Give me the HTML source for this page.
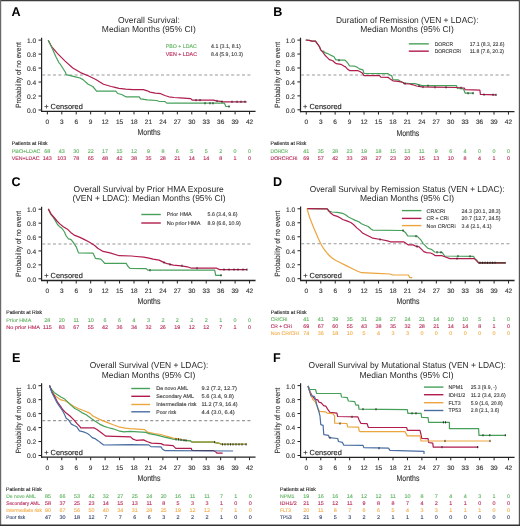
<!DOCTYPE html>
<html><head><meta charset="utf-8"><title>Kaplan-Meier</title>
<style>html,body{margin:0;padding:0;background:#fff;width:520px;height:526px;overflow:hidden}body{position:relative;font-family:"Liberation Sans", sans-serif}</style>
</head><body>
<svg width="520" height="526" viewBox="0 0 520 526" font-family='"Liberation Sans", sans-serif' text-rendering="geometricPrecision" style="position:absolute;left:0;top:0;will-change:transform">
<defs><filter id="bl" x="0" y="0" width="100%" height="100%"><feGaussianBlur stdDeviation="0.25"/></filter></defs>
<rect x="0" y="0" width="520" height="526" fill="#fff"/>
<g filter="url(#bl)">
<text x="11.60" y="16.30" font-size="12.6" fill="#000" font-weight="bold" >A</text>
<text x="273.20" y="16.10" font-size="12.6" fill="#000" font-weight="bold" >B</text>
<text x="11.60" y="186.30" font-size="12.6" fill="#000" font-weight="bold" >C</text>
<text x="273.10" y="185.90" font-size="12.6" fill="#000" font-weight="bold" >D</text>
<text x="12.00" y="361.70" font-size="12.6" fill="#000" font-weight="bold" >E</text>
<text x="273.05" y="361.70" font-size="12.6" fill="#000" font-weight="bold" >F</text>
<text x="118.00" y="22.70" font-size="8.6" fill="#2a2a2a" textLength="61.80" lengthAdjust="spacingAndGlyphs" >Overall Survival:</text>
<text x="101.80" y="32.30" font-size="8.6" fill="#2a2a2a" textLength="94.00" lengthAdjust="spacingAndGlyphs" >Median Months (95% CI)</text>
<text x="335.90" y="22.60" font-size="8.6" fill="#2a2a2a" textLength="142.60" lengthAdjust="spacingAndGlyphs" >Duration of Remission (VEN + LDAC):</text>
<text x="360.20" y="32.30" font-size="8.6" fill="#2a2a2a" textLength="93.60" lengthAdjust="spacingAndGlyphs" >Median Months (95% CI)</text>
<text x="73.60" y="192.00" font-size="8.6" fill="#2a2a2a" textLength="150.10" lengthAdjust="spacingAndGlyphs" >Overall Survival by Prior HMA Exposure</text>
<text x="72.40" y="201.20" font-size="8.6" fill="#2a2a2a" textLength="153.30" lengthAdjust="spacingAndGlyphs" >(VEN + LDAC): Median Months (95% CI)</text>
<text x="309.70" y="192.00" font-size="8.6" fill="#2a2a2a" textLength="194.80" lengthAdjust="spacingAndGlyphs" >Overall Survival by Remission Status (VEN + LDAC):</text>
<text x="360.00" y="201.20" font-size="8.6" fill="#2a2a2a" textLength="94.10" lengthAdjust="spacingAndGlyphs" >Median Months (95% CI)</text>
<text x="89.70" y="368.25" font-size="8.6" fill="#2a2a2a" textLength="118.60" lengthAdjust="spacingAndGlyphs" >Overall Survival (VEN + LDAC):</text>
<text x="101.70" y="377.60" font-size="8.6" fill="#2a2a2a" textLength="93.60" lengthAdjust="spacingAndGlyphs" >Median Months (95% CI)</text>
<text x="308.60" y="368.25" font-size="8.6" fill="#2a2a2a" textLength="197.30" lengthAdjust="spacingAndGlyphs" >Overall Survival by Mutational Status (VEN + LDAC):</text>
<text x="359.40" y="377.60" font-size="8.6" fill="#2a2a2a" textLength="94.10" lengthAdjust="spacingAndGlyphs" >Median Months (95% CI)</text>
<line x1="41.60" y1="37.70" x2="41.60" y2="112.00" stroke="#222" stroke-width="1.2"/>
<line x1="41.00" y1="111.40" x2="255.55" y2="111.40" stroke="#222" stroke-width="1.3"/>
<line x1="38.50" y1="110.00" x2="41.60" y2="110.00" stroke="#222" stroke-width="1"/>
<text x="36.10" y="112.95" font-size="6.6" fill="#333" stroke="#333" stroke-width="0.12" text-anchor="end" >0.0</text>
<line x1="38.50" y1="96.02" x2="41.60" y2="96.02" stroke="#222" stroke-width="1"/>
<text x="36.10" y="98.97" font-size="6.6" fill="#333" stroke="#333" stroke-width="0.12" text-anchor="end" >0.2</text>
<line x1="38.50" y1="82.04" x2="41.60" y2="82.04" stroke="#222" stroke-width="1"/>
<text x="36.10" y="84.99" font-size="6.6" fill="#333" stroke="#333" stroke-width="0.12" text-anchor="end" >0.4</text>
<line x1="38.50" y1="68.06" x2="41.60" y2="68.06" stroke="#222" stroke-width="1"/>
<text x="36.10" y="71.01" font-size="6.6" fill="#333" stroke="#333" stroke-width="0.12" text-anchor="end" >0.6</text>
<line x1="38.50" y1="54.08" x2="41.60" y2="54.08" stroke="#222" stroke-width="1"/>
<text x="36.10" y="57.03" font-size="6.6" fill="#333" stroke="#333" stroke-width="0.12" text-anchor="end" >0.8</text>
<line x1="38.50" y1="40.10" x2="41.60" y2="40.10" stroke="#222" stroke-width="1"/>
<text x="36.10" y="43.05" font-size="6.6" fill="#333" stroke="#333" stroke-width="0.12" text-anchor="end" >1.0</text>
<line x1="47.35" y1="111.40" x2="47.35" y2="114.40" stroke="#222" stroke-width="1"/>
<text x="47.35" y="123.80" font-size="6.5" fill="#333" stroke="#333" stroke-width="0.12" text-anchor="middle" >0</text>
<line x1="61.79" y1="111.40" x2="61.79" y2="114.40" stroke="#222" stroke-width="1"/>
<text x="61.79" y="123.80" font-size="6.5" fill="#333" stroke="#333" stroke-width="0.12" text-anchor="middle" >3</text>
<line x1="76.23" y1="111.40" x2="76.23" y2="114.40" stroke="#222" stroke-width="1"/>
<text x="76.23" y="123.80" font-size="6.5" fill="#333" stroke="#333" stroke-width="0.12" text-anchor="middle" >6</text>
<line x1="90.68" y1="111.40" x2="90.68" y2="114.40" stroke="#222" stroke-width="1"/>
<text x="90.68" y="123.80" font-size="6.5" fill="#333" stroke="#333" stroke-width="0.12" text-anchor="middle" >9</text>
<line x1="105.12" y1="111.40" x2="105.12" y2="114.40" stroke="#222" stroke-width="1"/>
<text x="105.12" y="123.80" font-size="6.5" fill="#333" stroke="#333" stroke-width="0.12" text-anchor="middle" >12</text>
<line x1="119.56" y1="111.40" x2="119.56" y2="114.40" stroke="#222" stroke-width="1"/>
<text x="119.56" y="123.80" font-size="6.5" fill="#333" stroke="#333" stroke-width="0.12" text-anchor="middle" >15</text>
<line x1="134.00" y1="111.40" x2="134.00" y2="114.40" stroke="#222" stroke-width="1"/>
<text x="134.00" y="123.80" font-size="6.5" fill="#333" stroke="#333" stroke-width="0.12" text-anchor="middle" >18</text>
<line x1="148.44" y1="111.40" x2="148.44" y2="114.40" stroke="#222" stroke-width="1"/>
<text x="148.44" y="123.80" font-size="6.5" fill="#333" stroke="#333" stroke-width="0.12" text-anchor="middle" >21</text>
<line x1="162.89" y1="111.40" x2="162.89" y2="114.40" stroke="#222" stroke-width="1"/>
<text x="162.89" y="123.80" font-size="6.5" fill="#333" stroke="#333" stroke-width="0.12" text-anchor="middle" >24</text>
<line x1="177.33" y1="111.40" x2="177.33" y2="114.40" stroke="#222" stroke-width="1"/>
<text x="177.33" y="123.80" font-size="6.5" fill="#333" stroke="#333" stroke-width="0.12" text-anchor="middle" >27</text>
<line x1="191.77" y1="111.40" x2="191.77" y2="114.40" stroke="#222" stroke-width="1"/>
<text x="191.77" y="123.80" font-size="6.5" fill="#333" stroke="#333" stroke-width="0.12" text-anchor="middle" >30</text>
<line x1="206.21" y1="111.40" x2="206.21" y2="114.40" stroke="#222" stroke-width="1"/>
<text x="206.21" y="123.80" font-size="6.5" fill="#333" stroke="#333" stroke-width="0.12" text-anchor="middle" >33</text>
<line x1="220.65" y1="111.40" x2="220.65" y2="114.40" stroke="#222" stroke-width="1"/>
<text x="220.65" y="123.80" font-size="6.5" fill="#333" stroke="#333" stroke-width="0.12" text-anchor="middle" >36</text>
<line x1="235.10" y1="111.40" x2="235.10" y2="114.40" stroke="#222" stroke-width="1"/>
<text x="235.10" y="123.80" font-size="6.5" fill="#333" stroke="#333" stroke-width="0.12" text-anchor="middle" >39</text>
<line x1="249.54" y1="111.40" x2="249.54" y2="114.40" stroke="#222" stroke-width="1"/>
<text x="249.54" y="123.80" font-size="6.5" fill="#333" stroke="#333" stroke-width="0.12" text-anchor="middle" >42</text>
<line x1="42.20" y1="75.05" x2="252.25" y2="75.05" stroke="#999" stroke-width="1.1" stroke-dasharray="3 2.4"/>
<text x="0" y="0" font-size="7.6" fill="#333" stroke="#333" stroke-width="0.1" text-anchor="middle" textLength="66" lengthAdjust="spacingAndGlyphs" transform="translate(21.40,75.05) rotate(-90)">Probability of no event</text>
<text x="148.97" y="135.30" font-size="8.4" fill="#333" stroke="#333" stroke-width="0.12" text-anchor="middle" textLength="23.00" lengthAdjust="spacingAndGlyphs" >Months</text>
<text x="44.20" y="109.20" font-size="7.3" fill="#222" stroke="#222" stroke-width="0.12" textLength="38.60" lengthAdjust="spacingAndGlyphs" >+ Censored</text>
<line x1="300.50" y1="37.70" x2="300.50" y2="112.20" stroke="#222" stroke-width="1.2"/>
<line x1="299.90" y1="111.60" x2="514.45" y2="111.60" stroke="#222" stroke-width="1.3"/>
<line x1="297.40" y1="109.80" x2="300.50" y2="109.80" stroke="#222" stroke-width="1"/>
<text x="295.00" y="112.75" font-size="6.6" fill="#333" stroke="#333" stroke-width="0.12" text-anchor="end" >0.0</text>
<line x1="297.40" y1="95.86" x2="300.50" y2="95.86" stroke="#222" stroke-width="1"/>
<text x="295.00" y="98.81" font-size="6.6" fill="#333" stroke="#333" stroke-width="0.12" text-anchor="end" >0.2</text>
<line x1="297.40" y1="81.92" x2="300.50" y2="81.92" stroke="#222" stroke-width="1"/>
<text x="295.00" y="84.87" font-size="6.6" fill="#333" stroke="#333" stroke-width="0.12" text-anchor="end" >0.4</text>
<line x1="297.40" y1="67.98" x2="300.50" y2="67.98" stroke="#222" stroke-width="1"/>
<text x="295.00" y="70.93" font-size="6.6" fill="#333" stroke="#333" stroke-width="0.12" text-anchor="end" >0.6</text>
<line x1="297.40" y1="54.04" x2="300.50" y2="54.04" stroke="#222" stroke-width="1"/>
<text x="295.00" y="56.99" font-size="6.6" fill="#333" stroke="#333" stroke-width="0.12" text-anchor="end" >0.8</text>
<line x1="297.40" y1="40.10" x2="300.50" y2="40.10" stroke="#222" stroke-width="1"/>
<text x="295.00" y="43.05" font-size="6.6" fill="#333" stroke="#333" stroke-width="0.12" text-anchor="end" >1.0</text>
<line x1="306.25" y1="111.60" x2="306.25" y2="114.60" stroke="#222" stroke-width="1"/>
<text x="306.25" y="124.00" font-size="6.5" fill="#333" stroke="#333" stroke-width="0.12" text-anchor="middle" >0</text>
<line x1="320.69" y1="111.60" x2="320.69" y2="114.60" stroke="#222" stroke-width="1"/>
<text x="320.69" y="124.00" font-size="6.5" fill="#333" stroke="#333" stroke-width="0.12" text-anchor="middle" >3</text>
<line x1="335.13" y1="111.60" x2="335.13" y2="114.60" stroke="#222" stroke-width="1"/>
<text x="335.13" y="124.00" font-size="6.5" fill="#333" stroke="#333" stroke-width="0.12" text-anchor="middle" >6</text>
<line x1="349.58" y1="111.60" x2="349.58" y2="114.60" stroke="#222" stroke-width="1"/>
<text x="349.58" y="124.00" font-size="6.5" fill="#333" stroke="#333" stroke-width="0.12" text-anchor="middle" >9</text>
<line x1="364.02" y1="111.60" x2="364.02" y2="114.60" stroke="#222" stroke-width="1"/>
<text x="364.02" y="124.00" font-size="6.5" fill="#333" stroke="#333" stroke-width="0.12" text-anchor="middle" >12</text>
<line x1="378.46" y1="111.60" x2="378.46" y2="114.60" stroke="#222" stroke-width="1"/>
<text x="378.46" y="124.00" font-size="6.5" fill="#333" stroke="#333" stroke-width="0.12" text-anchor="middle" >15</text>
<line x1="392.90" y1="111.60" x2="392.90" y2="114.60" stroke="#222" stroke-width="1"/>
<text x="392.90" y="124.00" font-size="6.5" fill="#333" stroke="#333" stroke-width="0.12" text-anchor="middle" >18</text>
<line x1="407.34" y1="111.60" x2="407.34" y2="114.60" stroke="#222" stroke-width="1"/>
<text x="407.34" y="124.00" font-size="6.5" fill="#333" stroke="#333" stroke-width="0.12" text-anchor="middle" >21</text>
<line x1="421.79" y1="111.60" x2="421.79" y2="114.60" stroke="#222" stroke-width="1"/>
<text x="421.79" y="124.00" font-size="6.5" fill="#333" stroke="#333" stroke-width="0.12" text-anchor="middle" >24</text>
<line x1="436.23" y1="111.60" x2="436.23" y2="114.60" stroke="#222" stroke-width="1"/>
<text x="436.23" y="124.00" font-size="6.5" fill="#333" stroke="#333" stroke-width="0.12" text-anchor="middle" >27</text>
<line x1="450.67" y1="111.60" x2="450.67" y2="114.60" stroke="#222" stroke-width="1"/>
<text x="450.67" y="124.00" font-size="6.5" fill="#333" stroke="#333" stroke-width="0.12" text-anchor="middle" >30</text>
<line x1="465.11" y1="111.60" x2="465.11" y2="114.60" stroke="#222" stroke-width="1"/>
<text x="465.11" y="124.00" font-size="6.5" fill="#333" stroke="#333" stroke-width="0.12" text-anchor="middle" >33</text>
<line x1="479.55" y1="111.60" x2="479.55" y2="114.60" stroke="#222" stroke-width="1"/>
<text x="479.55" y="124.00" font-size="6.5" fill="#333" stroke="#333" stroke-width="0.12" text-anchor="middle" >36</text>
<line x1="494.00" y1="111.60" x2="494.00" y2="114.60" stroke="#222" stroke-width="1"/>
<text x="494.00" y="124.00" font-size="6.5" fill="#333" stroke="#333" stroke-width="0.12" text-anchor="middle" >39</text>
<line x1="508.44" y1="111.60" x2="508.44" y2="114.60" stroke="#222" stroke-width="1"/>
<text x="508.44" y="124.00" font-size="6.5" fill="#333" stroke="#333" stroke-width="0.12" text-anchor="middle" >42</text>
<line x1="301.10" y1="74.95" x2="511.15" y2="74.95" stroke="#999" stroke-width="1.1" stroke-dasharray="3 2.4"/>
<text x="0" y="0" font-size="7.6" fill="#333" stroke="#333" stroke-width="0.1" text-anchor="middle" textLength="66" lengthAdjust="spacingAndGlyphs" transform="translate(280.30,74.95) rotate(-90)">Probability of no event</text>
<text x="407.88" y="135.50" font-size="8.4" fill="#333" stroke="#333" stroke-width="0.12" text-anchor="middle" textLength="23.00" lengthAdjust="spacingAndGlyphs" >Months</text>
<text x="303.10" y="109.00" font-size="7.3" fill="#222" stroke="#222" stroke-width="0.12" textLength="38.60" lengthAdjust="spacingAndGlyphs" >+ Censored</text>
<line x1="41.60" y1="206.80" x2="41.60" y2="281.10" stroke="#222" stroke-width="1.2"/>
<line x1="41.00" y1="280.50" x2="255.55" y2="280.50" stroke="#222" stroke-width="1.3"/>
<line x1="38.50" y1="278.80" x2="41.60" y2="278.80" stroke="#222" stroke-width="1"/>
<text x="36.10" y="281.75" font-size="6.6" fill="#333" stroke="#333" stroke-width="0.12" text-anchor="end" >0.0</text>
<line x1="38.50" y1="264.88" x2="41.60" y2="264.88" stroke="#222" stroke-width="1"/>
<text x="36.10" y="267.83" font-size="6.6" fill="#333" stroke="#333" stroke-width="0.12" text-anchor="end" >0.2</text>
<line x1="38.50" y1="250.96" x2="41.60" y2="250.96" stroke="#222" stroke-width="1"/>
<text x="36.10" y="253.91" font-size="6.6" fill="#333" stroke="#333" stroke-width="0.12" text-anchor="end" >0.4</text>
<line x1="38.50" y1="237.04" x2="41.60" y2="237.04" stroke="#222" stroke-width="1"/>
<text x="36.10" y="239.99" font-size="6.6" fill="#333" stroke="#333" stroke-width="0.12" text-anchor="end" >0.6</text>
<line x1="38.50" y1="223.12" x2="41.60" y2="223.12" stroke="#222" stroke-width="1"/>
<text x="36.10" y="226.07" font-size="6.6" fill="#333" stroke="#333" stroke-width="0.12" text-anchor="end" >0.8</text>
<line x1="38.50" y1="209.20" x2="41.60" y2="209.20" stroke="#222" stroke-width="1"/>
<text x="36.10" y="212.15" font-size="6.6" fill="#333" stroke="#333" stroke-width="0.12" text-anchor="end" >1.0</text>
<line x1="47.35" y1="280.50" x2="47.35" y2="283.50" stroke="#222" stroke-width="1"/>
<text x="47.35" y="292.90" font-size="6.5" fill="#333" stroke="#333" stroke-width="0.12" text-anchor="middle" >0</text>
<line x1="61.79" y1="280.50" x2="61.79" y2="283.50" stroke="#222" stroke-width="1"/>
<text x="61.79" y="292.90" font-size="6.5" fill="#333" stroke="#333" stroke-width="0.12" text-anchor="middle" >3</text>
<line x1="76.23" y1="280.50" x2="76.23" y2="283.50" stroke="#222" stroke-width="1"/>
<text x="76.23" y="292.90" font-size="6.5" fill="#333" stroke="#333" stroke-width="0.12" text-anchor="middle" >6</text>
<line x1="90.68" y1="280.50" x2="90.68" y2="283.50" stroke="#222" stroke-width="1"/>
<text x="90.68" y="292.90" font-size="6.5" fill="#333" stroke="#333" stroke-width="0.12" text-anchor="middle" >9</text>
<line x1="105.12" y1="280.50" x2="105.12" y2="283.50" stroke="#222" stroke-width="1"/>
<text x="105.12" y="292.90" font-size="6.5" fill="#333" stroke="#333" stroke-width="0.12" text-anchor="middle" >12</text>
<line x1="119.56" y1="280.50" x2="119.56" y2="283.50" stroke="#222" stroke-width="1"/>
<text x="119.56" y="292.90" font-size="6.5" fill="#333" stroke="#333" stroke-width="0.12" text-anchor="middle" >15</text>
<line x1="134.00" y1="280.50" x2="134.00" y2="283.50" stroke="#222" stroke-width="1"/>
<text x="134.00" y="292.90" font-size="6.5" fill="#333" stroke="#333" stroke-width="0.12" text-anchor="middle" >18</text>
<line x1="148.44" y1="280.50" x2="148.44" y2="283.50" stroke="#222" stroke-width="1"/>
<text x="148.44" y="292.90" font-size="6.5" fill="#333" stroke="#333" stroke-width="0.12" text-anchor="middle" >21</text>
<line x1="162.89" y1="280.50" x2="162.89" y2="283.50" stroke="#222" stroke-width="1"/>
<text x="162.89" y="292.90" font-size="6.5" fill="#333" stroke="#333" stroke-width="0.12" text-anchor="middle" >24</text>
<line x1="177.33" y1="280.50" x2="177.33" y2="283.50" stroke="#222" stroke-width="1"/>
<text x="177.33" y="292.90" font-size="6.5" fill="#333" stroke="#333" stroke-width="0.12" text-anchor="middle" >27</text>
<line x1="191.77" y1="280.50" x2="191.77" y2="283.50" stroke="#222" stroke-width="1"/>
<text x="191.77" y="292.90" font-size="6.5" fill="#333" stroke="#333" stroke-width="0.12" text-anchor="middle" >30</text>
<line x1="206.21" y1="280.50" x2="206.21" y2="283.50" stroke="#222" stroke-width="1"/>
<text x="206.21" y="292.90" font-size="6.5" fill="#333" stroke="#333" stroke-width="0.12" text-anchor="middle" >33</text>
<line x1="220.65" y1="280.50" x2="220.65" y2="283.50" stroke="#222" stroke-width="1"/>
<text x="220.65" y="292.90" font-size="6.5" fill="#333" stroke="#333" stroke-width="0.12" text-anchor="middle" >36</text>
<line x1="235.10" y1="280.50" x2="235.10" y2="283.50" stroke="#222" stroke-width="1"/>
<text x="235.10" y="292.90" font-size="6.5" fill="#333" stroke="#333" stroke-width="0.12" text-anchor="middle" >39</text>
<line x1="249.54" y1="280.50" x2="249.54" y2="283.50" stroke="#222" stroke-width="1"/>
<text x="249.54" y="292.90" font-size="6.5" fill="#333" stroke="#333" stroke-width="0.12" text-anchor="middle" >42</text>
<line x1="42.20" y1="244.00" x2="252.25" y2="244.00" stroke="#999" stroke-width="1.1" stroke-dasharray="3 2.4"/>
<text x="0" y="0" font-size="7.6" fill="#333" stroke="#333" stroke-width="0.1" text-anchor="middle" textLength="66" lengthAdjust="spacingAndGlyphs" transform="translate(21.40,244.00) rotate(-90)">Probability of no event</text>
<text x="148.97" y="304.40" font-size="8.4" fill="#333" stroke="#333" stroke-width="0.12" text-anchor="middle" textLength="23.00" lengthAdjust="spacingAndGlyphs" >Months</text>
<text x="44.20" y="278.00" font-size="7.3" fill="#222" stroke="#222" stroke-width="0.12" textLength="38.60" lengthAdjust="spacingAndGlyphs" >+ Censored</text>
<line x1="300.60" y1="206.40" x2="300.60" y2="281.10" stroke="#222" stroke-width="1.2"/>
<line x1="300.00" y1="280.50" x2="514.55" y2="280.50" stroke="#222" stroke-width="1.3"/>
<line x1="297.50" y1="278.70" x2="300.60" y2="278.70" stroke="#222" stroke-width="1"/>
<text x="295.10" y="281.65" font-size="6.6" fill="#333" stroke="#333" stroke-width="0.12" text-anchor="end" >0.0</text>
<line x1="297.50" y1="264.72" x2="300.60" y2="264.72" stroke="#222" stroke-width="1"/>
<text x="295.10" y="267.67" font-size="6.6" fill="#333" stroke="#333" stroke-width="0.12" text-anchor="end" >0.2</text>
<line x1="297.50" y1="250.74" x2="300.60" y2="250.74" stroke="#222" stroke-width="1"/>
<text x="295.10" y="253.69" font-size="6.6" fill="#333" stroke="#333" stroke-width="0.12" text-anchor="end" >0.4</text>
<line x1="297.50" y1="236.76" x2="300.60" y2="236.76" stroke="#222" stroke-width="1"/>
<text x="295.10" y="239.71" font-size="6.6" fill="#333" stroke="#333" stroke-width="0.12" text-anchor="end" >0.6</text>
<line x1="297.50" y1="222.78" x2="300.60" y2="222.78" stroke="#222" stroke-width="1"/>
<text x="295.10" y="225.73" font-size="6.6" fill="#333" stroke="#333" stroke-width="0.12" text-anchor="end" >0.8</text>
<line x1="297.50" y1="208.80" x2="300.60" y2="208.80" stroke="#222" stroke-width="1"/>
<text x="295.10" y="211.75" font-size="6.6" fill="#333" stroke="#333" stroke-width="0.12" text-anchor="end" >1.0</text>
<line x1="306.35" y1="280.50" x2="306.35" y2="283.50" stroke="#222" stroke-width="1"/>
<text x="306.35" y="292.90" font-size="6.5" fill="#333" stroke="#333" stroke-width="0.12" text-anchor="middle" >0</text>
<line x1="320.79" y1="280.50" x2="320.79" y2="283.50" stroke="#222" stroke-width="1"/>
<text x="320.79" y="292.90" font-size="6.5" fill="#333" stroke="#333" stroke-width="0.12" text-anchor="middle" >3</text>
<line x1="335.23" y1="280.50" x2="335.23" y2="283.50" stroke="#222" stroke-width="1"/>
<text x="335.23" y="292.90" font-size="6.5" fill="#333" stroke="#333" stroke-width="0.12" text-anchor="middle" >6</text>
<line x1="349.68" y1="280.50" x2="349.68" y2="283.50" stroke="#222" stroke-width="1"/>
<text x="349.68" y="292.90" font-size="6.5" fill="#333" stroke="#333" stroke-width="0.12" text-anchor="middle" >9</text>
<line x1="364.12" y1="280.50" x2="364.12" y2="283.50" stroke="#222" stroke-width="1"/>
<text x="364.12" y="292.90" font-size="6.5" fill="#333" stroke="#333" stroke-width="0.12" text-anchor="middle" >12</text>
<line x1="378.56" y1="280.50" x2="378.56" y2="283.50" stroke="#222" stroke-width="1"/>
<text x="378.56" y="292.90" font-size="6.5" fill="#333" stroke="#333" stroke-width="0.12" text-anchor="middle" >15</text>
<line x1="393.00" y1="280.50" x2="393.00" y2="283.50" stroke="#222" stroke-width="1"/>
<text x="393.00" y="292.90" font-size="6.5" fill="#333" stroke="#333" stroke-width="0.12" text-anchor="middle" >18</text>
<line x1="407.44" y1="280.50" x2="407.44" y2="283.50" stroke="#222" stroke-width="1"/>
<text x="407.44" y="292.90" font-size="6.5" fill="#333" stroke="#333" stroke-width="0.12" text-anchor="middle" >21</text>
<line x1="421.89" y1="280.50" x2="421.89" y2="283.50" stroke="#222" stroke-width="1"/>
<text x="421.89" y="292.90" font-size="6.5" fill="#333" stroke="#333" stroke-width="0.12" text-anchor="middle" >24</text>
<line x1="436.33" y1="280.50" x2="436.33" y2="283.50" stroke="#222" stroke-width="1"/>
<text x="436.33" y="292.90" font-size="6.5" fill="#333" stroke="#333" stroke-width="0.12" text-anchor="middle" >27</text>
<line x1="450.77" y1="280.50" x2="450.77" y2="283.50" stroke="#222" stroke-width="1"/>
<text x="450.77" y="292.90" font-size="6.5" fill="#333" stroke="#333" stroke-width="0.12" text-anchor="middle" >30</text>
<line x1="465.21" y1="280.50" x2="465.21" y2="283.50" stroke="#222" stroke-width="1"/>
<text x="465.21" y="292.90" font-size="6.5" fill="#333" stroke="#333" stroke-width="0.12" text-anchor="middle" >33</text>
<line x1="479.65" y1="280.50" x2="479.65" y2="283.50" stroke="#222" stroke-width="1"/>
<text x="479.65" y="292.90" font-size="6.5" fill="#333" stroke="#333" stroke-width="0.12" text-anchor="middle" >36</text>
<line x1="494.10" y1="280.50" x2="494.10" y2="283.50" stroke="#222" stroke-width="1"/>
<text x="494.10" y="292.90" font-size="6.5" fill="#333" stroke="#333" stroke-width="0.12" text-anchor="middle" >39</text>
<line x1="508.54" y1="280.50" x2="508.54" y2="283.50" stroke="#222" stroke-width="1"/>
<text x="508.54" y="292.90" font-size="6.5" fill="#333" stroke="#333" stroke-width="0.12" text-anchor="middle" >42</text>
<line x1="301.20" y1="243.75" x2="511.25" y2="243.75" stroke="#999" stroke-width="1.1" stroke-dasharray="3 2.4"/>
<text x="0" y="0" font-size="7.6" fill="#333" stroke="#333" stroke-width="0.1" text-anchor="middle" textLength="66" lengthAdjust="spacingAndGlyphs" transform="translate(280.40,243.75) rotate(-90)">Probability of no event</text>
<text x="407.97" y="304.40" font-size="8.4" fill="#333" stroke="#333" stroke-width="0.12" text-anchor="middle" textLength="23.00" lengthAdjust="spacingAndGlyphs" >Months</text>
<text x="303.20" y="277.90" font-size="7.3" fill="#222" stroke="#222" stroke-width="0.12" textLength="38.60" lengthAdjust="spacingAndGlyphs" >+ Censored</text>
<line x1="41.60" y1="383.30" x2="41.60" y2="457.80" stroke="#222" stroke-width="1.2"/>
<line x1="41.00" y1="457.20" x2="255.55" y2="457.20" stroke="#222" stroke-width="1.3"/>
<line x1="38.50" y1="455.50" x2="41.60" y2="455.50" stroke="#222" stroke-width="1"/>
<text x="36.10" y="458.45" font-size="6.6" fill="#333" stroke="#333" stroke-width="0.12" text-anchor="end" >0.0</text>
<line x1="38.50" y1="441.54" x2="41.60" y2="441.54" stroke="#222" stroke-width="1"/>
<text x="36.10" y="444.49" font-size="6.6" fill="#333" stroke="#333" stroke-width="0.12" text-anchor="end" >0.2</text>
<line x1="38.50" y1="427.58" x2="41.60" y2="427.58" stroke="#222" stroke-width="1"/>
<text x="36.10" y="430.53" font-size="6.6" fill="#333" stroke="#333" stroke-width="0.12" text-anchor="end" >0.4</text>
<line x1="38.50" y1="413.62" x2="41.60" y2="413.62" stroke="#222" stroke-width="1"/>
<text x="36.10" y="416.57" font-size="6.6" fill="#333" stroke="#333" stroke-width="0.12" text-anchor="end" >0.6</text>
<line x1="38.50" y1="399.66" x2="41.60" y2="399.66" stroke="#222" stroke-width="1"/>
<text x="36.10" y="402.61" font-size="6.6" fill="#333" stroke="#333" stroke-width="0.12" text-anchor="end" >0.8</text>
<line x1="38.50" y1="385.70" x2="41.60" y2="385.70" stroke="#222" stroke-width="1"/>
<text x="36.10" y="388.65" font-size="6.6" fill="#333" stroke="#333" stroke-width="0.12" text-anchor="end" >1.0</text>
<line x1="47.35" y1="457.20" x2="47.35" y2="460.20" stroke="#222" stroke-width="1"/>
<text x="47.35" y="469.60" font-size="6.5" fill="#333" stroke="#333" stroke-width="0.12" text-anchor="middle" >0</text>
<line x1="61.79" y1="457.20" x2="61.79" y2="460.20" stroke="#222" stroke-width="1"/>
<text x="61.79" y="469.60" font-size="6.5" fill="#333" stroke="#333" stroke-width="0.12" text-anchor="middle" >3</text>
<line x1="76.23" y1="457.20" x2="76.23" y2="460.20" stroke="#222" stroke-width="1"/>
<text x="76.23" y="469.60" font-size="6.5" fill="#333" stroke="#333" stroke-width="0.12" text-anchor="middle" >6</text>
<line x1="90.68" y1="457.20" x2="90.68" y2="460.20" stroke="#222" stroke-width="1"/>
<text x="90.68" y="469.60" font-size="6.5" fill="#333" stroke="#333" stroke-width="0.12" text-anchor="middle" >9</text>
<line x1="105.12" y1="457.20" x2="105.12" y2="460.20" stroke="#222" stroke-width="1"/>
<text x="105.12" y="469.60" font-size="6.5" fill="#333" stroke="#333" stroke-width="0.12" text-anchor="middle" >12</text>
<line x1="119.56" y1="457.20" x2="119.56" y2="460.20" stroke="#222" stroke-width="1"/>
<text x="119.56" y="469.60" font-size="6.5" fill="#333" stroke="#333" stroke-width="0.12" text-anchor="middle" >15</text>
<line x1="134.00" y1="457.20" x2="134.00" y2="460.20" stroke="#222" stroke-width="1"/>
<text x="134.00" y="469.60" font-size="6.5" fill="#333" stroke="#333" stroke-width="0.12" text-anchor="middle" >18</text>
<line x1="148.44" y1="457.20" x2="148.44" y2="460.20" stroke="#222" stroke-width="1"/>
<text x="148.44" y="469.60" font-size="6.5" fill="#333" stroke="#333" stroke-width="0.12" text-anchor="middle" >21</text>
<line x1="162.89" y1="457.20" x2="162.89" y2="460.20" stroke="#222" stroke-width="1"/>
<text x="162.89" y="469.60" font-size="6.5" fill="#333" stroke="#333" stroke-width="0.12" text-anchor="middle" >24</text>
<line x1="177.33" y1="457.20" x2="177.33" y2="460.20" stroke="#222" stroke-width="1"/>
<text x="177.33" y="469.60" font-size="6.5" fill="#333" stroke="#333" stroke-width="0.12" text-anchor="middle" >27</text>
<line x1="191.77" y1="457.20" x2="191.77" y2="460.20" stroke="#222" stroke-width="1"/>
<text x="191.77" y="469.60" font-size="6.5" fill="#333" stroke="#333" stroke-width="0.12" text-anchor="middle" >30</text>
<line x1="206.21" y1="457.20" x2="206.21" y2="460.20" stroke="#222" stroke-width="1"/>
<text x="206.21" y="469.60" font-size="6.5" fill="#333" stroke="#333" stroke-width="0.12" text-anchor="middle" >33</text>
<line x1="220.65" y1="457.20" x2="220.65" y2="460.20" stroke="#222" stroke-width="1"/>
<text x="220.65" y="469.60" font-size="6.5" fill="#333" stroke="#333" stroke-width="0.12" text-anchor="middle" >36</text>
<line x1="235.10" y1="457.20" x2="235.10" y2="460.20" stroke="#222" stroke-width="1"/>
<text x="235.10" y="469.60" font-size="6.5" fill="#333" stroke="#333" stroke-width="0.12" text-anchor="middle" >39</text>
<line x1="249.54" y1="457.20" x2="249.54" y2="460.20" stroke="#222" stroke-width="1"/>
<text x="249.54" y="469.60" font-size="6.5" fill="#333" stroke="#333" stroke-width="0.12" text-anchor="middle" >42</text>
<line x1="42.20" y1="420.60" x2="252.25" y2="420.60" stroke="#999" stroke-width="1.1" stroke-dasharray="3 2.4"/>
<text x="0" y="0" font-size="7.6" fill="#333" stroke="#333" stroke-width="0.1" text-anchor="middle" textLength="66" lengthAdjust="spacingAndGlyphs" transform="translate(21.40,420.60) rotate(-90)">Probability of no event</text>
<text x="148.97" y="481.10" font-size="8.4" fill="#333" stroke="#333" stroke-width="0.12" text-anchor="middle" textLength="23.00" lengthAdjust="spacingAndGlyphs" >Months</text>
<text x="44.20" y="454.70" font-size="7.3" fill="#222" stroke="#222" stroke-width="0.12" textLength="38.60" lengthAdjust="spacingAndGlyphs" >+ Censored</text>
<line x1="300.60" y1="383.20" x2="300.60" y2="457.90" stroke="#222" stroke-width="1.2"/>
<line x1="300.00" y1="457.30" x2="514.55" y2="457.30" stroke="#222" stroke-width="1.3"/>
<line x1="297.50" y1="455.50" x2="300.60" y2="455.50" stroke="#222" stroke-width="1"/>
<text x="295.10" y="458.45" font-size="6.6" fill="#333" stroke="#333" stroke-width="0.12" text-anchor="end" >0.0</text>
<line x1="297.50" y1="441.52" x2="300.60" y2="441.52" stroke="#222" stroke-width="1"/>
<text x="295.10" y="444.47" font-size="6.6" fill="#333" stroke="#333" stroke-width="0.12" text-anchor="end" >0.2</text>
<line x1="297.50" y1="427.54" x2="300.60" y2="427.54" stroke="#222" stroke-width="1"/>
<text x="295.10" y="430.49" font-size="6.6" fill="#333" stroke="#333" stroke-width="0.12" text-anchor="end" >0.4</text>
<line x1="297.50" y1="413.56" x2="300.60" y2="413.56" stroke="#222" stroke-width="1"/>
<text x="295.10" y="416.51" font-size="6.6" fill="#333" stroke="#333" stroke-width="0.12" text-anchor="end" >0.6</text>
<line x1="297.50" y1="399.58" x2="300.60" y2="399.58" stroke="#222" stroke-width="1"/>
<text x="295.10" y="402.53" font-size="6.6" fill="#333" stroke="#333" stroke-width="0.12" text-anchor="end" >0.8</text>
<line x1="297.50" y1="385.60" x2="300.60" y2="385.60" stroke="#222" stroke-width="1"/>
<text x="295.10" y="388.55" font-size="6.6" fill="#333" stroke="#333" stroke-width="0.12" text-anchor="end" >1.0</text>
<line x1="306.35" y1="457.30" x2="306.35" y2="460.30" stroke="#222" stroke-width="1"/>
<text x="306.35" y="469.70" font-size="6.5" fill="#333" stroke="#333" stroke-width="0.12" text-anchor="middle" >0</text>
<line x1="320.79" y1="457.30" x2="320.79" y2="460.30" stroke="#222" stroke-width="1"/>
<text x="320.79" y="469.70" font-size="6.5" fill="#333" stroke="#333" stroke-width="0.12" text-anchor="middle" >3</text>
<line x1="335.23" y1="457.30" x2="335.23" y2="460.30" stroke="#222" stroke-width="1"/>
<text x="335.23" y="469.70" font-size="6.5" fill="#333" stroke="#333" stroke-width="0.12" text-anchor="middle" >6</text>
<line x1="349.68" y1="457.30" x2="349.68" y2="460.30" stroke="#222" stroke-width="1"/>
<text x="349.68" y="469.70" font-size="6.5" fill="#333" stroke="#333" stroke-width="0.12" text-anchor="middle" >9</text>
<line x1="364.12" y1="457.30" x2="364.12" y2="460.30" stroke="#222" stroke-width="1"/>
<text x="364.12" y="469.70" font-size="6.5" fill="#333" stroke="#333" stroke-width="0.12" text-anchor="middle" >12</text>
<line x1="378.56" y1="457.30" x2="378.56" y2="460.30" stroke="#222" stroke-width="1"/>
<text x="378.56" y="469.70" font-size="6.5" fill="#333" stroke="#333" stroke-width="0.12" text-anchor="middle" >15</text>
<line x1="393.00" y1="457.30" x2="393.00" y2="460.30" stroke="#222" stroke-width="1"/>
<text x="393.00" y="469.70" font-size="6.5" fill="#333" stroke="#333" stroke-width="0.12" text-anchor="middle" >18</text>
<line x1="407.44" y1="457.30" x2="407.44" y2="460.30" stroke="#222" stroke-width="1"/>
<text x="407.44" y="469.70" font-size="6.5" fill="#333" stroke="#333" stroke-width="0.12" text-anchor="middle" >21</text>
<line x1="421.89" y1="457.30" x2="421.89" y2="460.30" stroke="#222" stroke-width="1"/>
<text x="421.89" y="469.70" font-size="6.5" fill="#333" stroke="#333" stroke-width="0.12" text-anchor="middle" >24</text>
<line x1="436.33" y1="457.30" x2="436.33" y2="460.30" stroke="#222" stroke-width="1"/>
<text x="436.33" y="469.70" font-size="6.5" fill="#333" stroke="#333" stroke-width="0.12" text-anchor="middle" >27</text>
<line x1="450.77" y1="457.30" x2="450.77" y2="460.30" stroke="#222" stroke-width="1"/>
<text x="450.77" y="469.70" font-size="6.5" fill="#333" stroke="#333" stroke-width="0.12" text-anchor="middle" >30</text>
<line x1="465.21" y1="457.30" x2="465.21" y2="460.30" stroke="#222" stroke-width="1"/>
<text x="465.21" y="469.70" font-size="6.5" fill="#333" stroke="#333" stroke-width="0.12" text-anchor="middle" >33</text>
<line x1="479.65" y1="457.30" x2="479.65" y2="460.30" stroke="#222" stroke-width="1"/>
<text x="479.65" y="469.70" font-size="6.5" fill="#333" stroke="#333" stroke-width="0.12" text-anchor="middle" >36</text>
<line x1="494.10" y1="457.30" x2="494.10" y2="460.30" stroke="#222" stroke-width="1"/>
<text x="494.10" y="469.70" font-size="6.5" fill="#333" stroke="#333" stroke-width="0.12" text-anchor="middle" >39</text>
<line x1="508.54" y1="457.30" x2="508.54" y2="460.30" stroke="#222" stroke-width="1"/>
<text x="508.54" y="469.70" font-size="6.5" fill="#333" stroke="#333" stroke-width="0.12" text-anchor="middle" >42</text>
<text x="0" y="0" font-size="7.6" fill="#333" stroke="#333" stroke-width="0.1" text-anchor="middle" textLength="66" lengthAdjust="spacingAndGlyphs" transform="translate(280.40,420.55) rotate(-90)">Probability of no event</text>
<text x="407.97" y="481.20" font-size="8.4" fill="#333" stroke="#333" stroke-width="0.12" text-anchor="middle" textLength="23.00" lengthAdjust="spacingAndGlyphs" >Months</text>
<text x="303.20" y="454.70" font-size="7.3" fill="#222" stroke="#222" stroke-width="0.12" textLength="38.60" lengthAdjust="spacingAndGlyphs" >+ Censored</text>
<text x="165.80" y="48.10" font-size="5.3" fill="#62b462" stroke="#62b462" stroke-width="0.12" textLength="30.90" lengthAdjust="spacingAndGlyphs" >PBO + LDAC</text>
<text x="211.00" y="48.10" font-size="5.3" fill="#3a3a3a" stroke="#3a3a3a" stroke-width="0.12" textLength="29.80" lengthAdjust="spacingAndGlyphs" >4.1 (3.1, 8.1)</text>
<text x="165.80" y="55.80" font-size="5.3" fill="#b82c5a" stroke="#b82c5a" stroke-width="0.12" textLength="31.20" lengthAdjust="spacingAndGlyphs" >VEN + LDAC</text>
<text x="211.00" y="55.80" font-size="5.3" fill="#3a3a3a" stroke="#3a3a3a" stroke-width="0.12" textLength="32.00" lengthAdjust="spacingAndGlyphs" >8.4 (5.9, 10.3)</text>
<line x1="408.8" y1="43.85" x2="428.8" y2="43.85" stroke="#47a05a" stroke-width="1.4"/>
<text x="434.70" y="45.75" font-size="5.3" fill="#3a3a3a" stroke="#3a3a3a" stroke-width="0.12" textLength="18.40" lengthAdjust="spacingAndGlyphs" >DORCR</text>
<text x="469.70" y="45.75" font-size="5.3" fill="#3a3a3a" stroke="#3a3a3a" stroke-width="0.12" textLength="34.70" lengthAdjust="spacingAndGlyphs" >17.1 (8.3, 22.6)</text>
<line x1="408.8" y1="51.15" x2="428.8" y2="51.15" stroke="#b01c4c" stroke-width="1.4"/>
<text x="434.70" y="53.05" font-size="5.3" fill="#3a3a3a" stroke="#3a3a3a" stroke-width="0.12" textLength="26.10" lengthAdjust="spacingAndGlyphs" >DORCRCRi</text>
<text x="469.70" y="53.05" font-size="5.3" fill="#3a3a3a" stroke="#3a3a3a" stroke-width="0.12" textLength="34.30" lengthAdjust="spacingAndGlyphs" >11.8 (7.6, 20.2)</text>
<line x1="141.3" y1="214.5" x2="160.8" y2="214.5" stroke="#47a05a" stroke-width="1.4"/>
<text x="166.70" y="216.40" font-size="5.3" fill="#3a3a3a" stroke="#3a3a3a" stroke-width="0.12" textLength="25.00" lengthAdjust="spacingAndGlyphs" >Prior HMA</text>
<text x="207.50" y="216.40" font-size="5.3" fill="#3a3a3a" stroke="#3a3a3a" stroke-width="0.12" textLength="30.00" lengthAdjust="spacingAndGlyphs" >5.6 (3.4, 9.6)</text>
<line x1="141.3" y1="223.0" x2="160.8" y2="223.0" stroke="#b01c4c" stroke-width="1.4"/>
<text x="166.70" y="224.90" font-size="5.3" fill="#3a3a3a" stroke="#3a3a3a" stroke-width="0.12" textLength="33.80" lengthAdjust="spacingAndGlyphs" >No prior HMA</text>
<text x="207.50" y="224.90" font-size="5.3" fill="#3a3a3a" stroke="#3a3a3a" stroke-width="0.12" textLength="33.20" lengthAdjust="spacingAndGlyphs" >8.9 (6.6, 10.9)</text>
<line x1="401.9" y1="210.6" x2="421.4" y2="210.6" stroke="#47a05a" stroke-width="1.4"/>
<text x="426.60" y="212.50" font-size="5.3" fill="#3a3a3a" stroke="#3a3a3a" stroke-width="0.12" textLength="18.50" lengthAdjust="spacingAndGlyphs" >CR/CRi</text>
<text x="461.60" y="212.50" font-size="5.3" fill="#3a3a3a" stroke="#3a3a3a" stroke-width="0.12" textLength="39.00" lengthAdjust="spacingAndGlyphs" >24.3 (20.1, 28.3)</text>
<line x1="401.9" y1="218.4" x2="421.4" y2="218.4" stroke="#b01c4c" stroke-width="1.4"/>
<text x="426.60" y="220.30" font-size="5.3" fill="#3a3a3a" stroke="#3a3a3a" stroke-width="0.12" textLength="22.00" lengthAdjust="spacingAndGlyphs" >CR + CRi</text>
<text x="461.60" y="220.30" font-size="5.3" fill="#3a3a3a" stroke="#3a3a3a" stroke-width="0.12" textLength="39.00" lengthAdjust="spacingAndGlyphs" >20.7 (12.7, 24.5)</text>
<line x1="401.9" y1="225.6" x2="421.4" y2="225.6" stroke="#eca43c" stroke-width="1.4"/>
<text x="426.60" y="227.50" font-size="5.3" fill="#3a3a3a" stroke="#3a3a3a" stroke-width="0.12" textLength="29.00" lengthAdjust="spacingAndGlyphs" >Non CR/CRi</text>
<text x="461.60" y="227.50" font-size="5.3" fill="#3a3a3a" stroke="#3a3a3a" stroke-width="0.12" textLength="29.90" lengthAdjust="spacingAndGlyphs" >3.4 (2.1, 4.1)</text>
<line x1="131.3" y1="388.5" x2="150.1" y2="388.5" stroke="#47a05a" stroke-width="1.4"/>
<text x="156.30" y="390.40" font-size="5.3" fill="#3a3a3a" stroke="#3a3a3a" stroke-width="0.12" textLength="31.90" lengthAdjust="spacingAndGlyphs" >De novo AML</text>
<text x="201.50" y="390.40" font-size="5.3" fill="#3a3a3a" stroke="#3a3a3a" stroke-width="0.12" textLength="35.30" lengthAdjust="spacingAndGlyphs" >9.2 (7.2, 12.7)</text>
<line x1="131.3" y1="396.3" x2="150.1" y2="396.3" stroke="#b01c4c" stroke-width="1.4"/>
<text x="156.30" y="398.20" font-size="5.3" fill="#3a3a3a" stroke="#3a3a3a" stroke-width="0.12" textLength="37.60" lengthAdjust="spacingAndGlyphs" >Secondary AML</text>
<text x="201.50" y="398.20" font-size="5.3" fill="#3a3a3a" stroke="#3a3a3a" stroke-width="0.12" textLength="32.30" lengthAdjust="spacingAndGlyphs" >5.6 (3.4, 9.8)</text>
<line x1="131.3" y1="404.5" x2="150.1" y2="404.5" stroke="#eca43c" stroke-width="1.4"/>
<text x="156.30" y="406.40" font-size="5.3" fill="#3a3a3a" stroke="#3a3a3a" stroke-width="0.12" textLength="40.30" lengthAdjust="spacingAndGlyphs" >Intermediate risk</text>
<text x="201.50" y="406.40" font-size="5.3" fill="#3a3a3a" stroke="#3a3a3a" stroke-width="0.12" textLength="36.00" lengthAdjust="spacingAndGlyphs" >11.2 (7.9, 16.4)</text>
<line x1="131.3" y1="411.8" x2="150.1" y2="411.8" stroke="#4a6ea2" stroke-width="1.4"/>
<text x="156.30" y="413.70" font-size="5.3" fill="#3a3a3a" stroke="#3a3a3a" stroke-width="0.12" textLength="19.90" lengthAdjust="spacingAndGlyphs" >Poor risk</text>
<text x="201.50" y="413.70" font-size="5.3" fill="#3a3a3a" stroke="#3a3a3a" stroke-width="0.12" textLength="33.10" lengthAdjust="spacingAndGlyphs" >4.4 (3.0, 6.4)</text>
<line x1="424.0" y1="387.1" x2="443.4" y2="387.1" stroke="#47a05a" stroke-width="1.4"/>
<text x="448.60" y="389.00" font-size="5.3" fill="#3a3a3a" stroke="#3a3a3a" stroke-width="0.12" textLength="14.50" lengthAdjust="spacingAndGlyphs" >NPM1</text>
<text x="470.70" y="389.00" font-size="5.3" fill="#3a3a3a" stroke="#3a3a3a" stroke-width="0.12" textLength="26.00" lengthAdjust="spacingAndGlyphs" >25.3 (9.9, -)</text>
<line x1="424.0" y1="394.7" x2="443.4" y2="394.7" stroke="#b01c4c" stroke-width="1.4"/>
<text x="448.60" y="396.60" font-size="5.3" fill="#3a3a3a" stroke="#3a3a3a" stroke-width="0.12" textLength="16.50" lengthAdjust="spacingAndGlyphs" >IDH1/2</text>
<text x="470.70" y="396.60" font-size="5.3" fill="#3a3a3a" stroke="#3a3a3a" stroke-width="0.12" textLength="35.10" lengthAdjust="spacingAndGlyphs" >11.2 (3.4, 23.6)</text>
<line x1="424.0" y1="402.7" x2="443.4" y2="402.7" stroke="#eca43c" stroke-width="1.4"/>
<text x="448.60" y="404.60" font-size="5.3" fill="#3a3a3a" stroke="#3a3a3a" stroke-width="0.12" textLength="12.00" lengthAdjust="spacingAndGlyphs" >FLT3</text>
<text x="470.70" y="404.60" font-size="5.3" fill="#3a3a3a" stroke="#3a3a3a" stroke-width="0.12" textLength="32.00" lengthAdjust="spacingAndGlyphs" >5.9 (1.6, 20.8)</text>
<line x1="424.0" y1="410.5" x2="443.4" y2="410.5" stroke="#4a6ea2" stroke-width="1.4"/>
<text x="448.60" y="412.40" font-size="5.3" fill="#3a3a3a" stroke="#3a3a3a" stroke-width="0.12" textLength="12.50" lengthAdjust="spacingAndGlyphs" >TP53</text>
<text x="470.70" y="412.40" font-size="5.3" fill="#3a3a3a" stroke="#3a3a3a" stroke-width="0.12" textLength="28.50" lengthAdjust="spacingAndGlyphs" >2.8 (2.1, 3.6)</text>
<text x="11.80" y="145.10" font-size="5.2" fill="#222" stroke="#222" stroke-width="0.12" textLength="35.90" lengthAdjust="spacingAndGlyphs" >Patients at Risk</text>
<text x="11.80" y="153.00" font-size="5.2" fill="#62b462" stroke="#62b462" stroke-width="0.12" textLength="28.50" lengthAdjust="spacingAndGlyphs" >PBO+LDAC</text>
<text x="47.35" y="153.00" font-size="5.4" fill="#62b462" stroke="#62b462" stroke-width="0.12" text-anchor="middle" >68</text>
<text x="61.79" y="153.00" font-size="5.4" fill="#62b462" stroke="#62b462" stroke-width="0.12" text-anchor="middle" >43</text>
<text x="76.23" y="153.00" font-size="5.4" fill="#62b462" stroke="#62b462" stroke-width="0.12" text-anchor="middle" >30</text>
<text x="90.68" y="153.00" font-size="5.4" fill="#62b462" stroke="#62b462" stroke-width="0.12" text-anchor="middle" >22</text>
<text x="105.12" y="153.00" font-size="5.4" fill="#62b462" stroke="#62b462" stroke-width="0.12" text-anchor="middle" >17</text>
<text x="119.56" y="153.00" font-size="5.4" fill="#62b462" stroke="#62b462" stroke-width="0.12" text-anchor="middle" >15</text>
<text x="134.00" y="153.00" font-size="5.4" fill="#62b462" stroke="#62b462" stroke-width="0.12" text-anchor="middle" >12</text>
<text x="148.44" y="153.00" font-size="5.4" fill="#62b462" stroke="#62b462" stroke-width="0.12" text-anchor="middle" >9</text>
<text x="162.89" y="153.00" font-size="5.4" fill="#62b462" stroke="#62b462" stroke-width="0.12" text-anchor="middle" >8</text>
<text x="177.33" y="153.00" font-size="5.4" fill="#62b462" stroke="#62b462" stroke-width="0.12" text-anchor="middle" >6</text>
<text x="191.77" y="153.00" font-size="5.4" fill="#62b462" stroke="#62b462" stroke-width="0.12" text-anchor="middle" >5</text>
<text x="206.21" y="153.00" font-size="5.4" fill="#62b462" stroke="#62b462" stroke-width="0.12" text-anchor="middle" >5</text>
<text x="220.65" y="153.00" font-size="5.4" fill="#62b462" stroke="#62b462" stroke-width="0.12" text-anchor="middle" >2</text>
<text x="235.10" y="153.00" font-size="5.4" fill="#62b462" stroke="#62b462" stroke-width="0.12" text-anchor="middle" >0</text>
<text x="249.54" y="153.00" font-size="5.4" fill="#62b462" stroke="#62b462" stroke-width="0.12" text-anchor="middle" >0</text>
<text x="11.80" y="159.90" font-size="5.2" fill="#b82c5a" stroke="#b82c5a" stroke-width="0.12" textLength="27.70" lengthAdjust="spacingAndGlyphs" >VEN+LDAC</text>
<text x="47.35" y="159.90" font-size="5.4" fill="#b82c5a" stroke="#b82c5a" stroke-width="0.12" text-anchor="middle" >143</text>
<text x="61.79" y="159.90" font-size="5.4" fill="#b82c5a" stroke="#b82c5a" stroke-width="0.12" text-anchor="middle" >103</text>
<text x="76.23" y="159.90" font-size="5.4" fill="#b82c5a" stroke="#b82c5a" stroke-width="0.12" text-anchor="middle" >78</text>
<text x="90.68" y="159.90" font-size="5.4" fill="#b82c5a" stroke="#b82c5a" stroke-width="0.12" text-anchor="middle" >65</text>
<text x="105.12" y="159.90" font-size="5.4" fill="#b82c5a" stroke="#b82c5a" stroke-width="0.12" text-anchor="middle" >48</text>
<text x="119.56" y="159.90" font-size="5.4" fill="#b82c5a" stroke="#b82c5a" stroke-width="0.12" text-anchor="middle" >42</text>
<text x="134.00" y="159.90" font-size="5.4" fill="#b82c5a" stroke="#b82c5a" stroke-width="0.12" text-anchor="middle" >38</text>
<text x="148.44" y="159.90" font-size="5.4" fill="#b82c5a" stroke="#b82c5a" stroke-width="0.12" text-anchor="middle" >35</text>
<text x="162.89" y="159.90" font-size="5.4" fill="#b82c5a" stroke="#b82c5a" stroke-width="0.12" text-anchor="middle" >28</text>
<text x="177.33" y="159.90" font-size="5.4" fill="#b82c5a" stroke="#b82c5a" stroke-width="0.12" text-anchor="middle" >21</text>
<text x="191.77" y="159.90" font-size="5.4" fill="#b82c5a" stroke="#b82c5a" stroke-width="0.12" text-anchor="middle" >14</text>
<text x="206.21" y="159.90" font-size="5.4" fill="#b82c5a" stroke="#b82c5a" stroke-width="0.12" text-anchor="middle" >14</text>
<text x="220.65" y="159.90" font-size="5.4" fill="#b82c5a" stroke="#b82c5a" stroke-width="0.12" text-anchor="middle" >8</text>
<text x="235.10" y="159.90" font-size="5.4" fill="#b82c5a" stroke="#b82c5a" stroke-width="0.12" text-anchor="middle" >1</text>
<text x="249.54" y="159.90" font-size="5.4" fill="#b82c5a" stroke="#b82c5a" stroke-width="0.12" text-anchor="middle" >0</text>
<text x="270.50" y="145.00" font-size="5.2" fill="#222" stroke="#222" stroke-width="0.12" textLength="35.90" lengthAdjust="spacingAndGlyphs" >Patients at Risk</text>
<text x="270.50" y="152.90" font-size="5.2" fill="#62b462" stroke="#62b462" stroke-width="0.12" textLength="17.50" lengthAdjust="spacingAndGlyphs" >DORCR</text>
<text x="306.25" y="152.90" font-size="5.4" fill="#62b462" stroke="#62b462" stroke-width="0.12" text-anchor="middle" >41</text>
<text x="320.69" y="152.90" font-size="5.4" fill="#62b462" stroke="#62b462" stroke-width="0.12" text-anchor="middle" >35</text>
<text x="335.13" y="152.90" font-size="5.4" fill="#62b462" stroke="#62b462" stroke-width="0.12" text-anchor="middle" >28</text>
<text x="349.58" y="152.90" font-size="5.4" fill="#62b462" stroke="#62b462" stroke-width="0.12" text-anchor="middle" >23</text>
<text x="364.02" y="152.90" font-size="5.4" fill="#62b462" stroke="#62b462" stroke-width="0.12" text-anchor="middle" >19</text>
<text x="378.46" y="152.90" font-size="5.4" fill="#62b462" stroke="#62b462" stroke-width="0.12" text-anchor="middle" >18</text>
<text x="392.90" y="152.90" font-size="5.4" fill="#62b462" stroke="#62b462" stroke-width="0.12" text-anchor="middle" >15</text>
<text x="407.34" y="152.90" font-size="5.4" fill="#62b462" stroke="#62b462" stroke-width="0.12" text-anchor="middle" >13</text>
<text x="421.79" y="152.90" font-size="5.4" fill="#62b462" stroke="#62b462" stroke-width="0.12" text-anchor="middle" >11</text>
<text x="436.23" y="152.90" font-size="5.4" fill="#62b462" stroke="#62b462" stroke-width="0.12" text-anchor="middle" >9</text>
<text x="450.67" y="152.90" font-size="5.4" fill="#62b462" stroke="#62b462" stroke-width="0.12" text-anchor="middle" >6</text>
<text x="465.11" y="152.90" font-size="5.4" fill="#62b462" stroke="#62b462" stroke-width="0.12" text-anchor="middle" >4</text>
<text x="479.55" y="152.90" font-size="5.4" fill="#62b462" stroke="#62b462" stroke-width="0.12" text-anchor="middle" >0</text>
<text x="494.00" y="152.90" font-size="5.4" fill="#62b462" stroke="#62b462" stroke-width="0.12" text-anchor="middle" >0</text>
<text x="508.44" y="152.90" font-size="5.4" fill="#62b462" stroke="#62b462" stroke-width="0.12" text-anchor="middle" >0</text>
<text x="270.50" y="159.90" font-size="5.2" fill="#b82c5a" stroke="#b82c5a" stroke-width="0.12" textLength="27.00" lengthAdjust="spacingAndGlyphs" >DORCRCRi</text>
<text x="306.25" y="159.90" font-size="5.4" fill="#b82c5a" stroke="#b82c5a" stroke-width="0.12" text-anchor="middle" >69</text>
<text x="320.69" y="159.90" font-size="5.4" fill="#b82c5a" stroke="#b82c5a" stroke-width="0.12" text-anchor="middle" >57</text>
<text x="335.13" y="159.90" font-size="5.4" fill="#b82c5a" stroke="#b82c5a" stroke-width="0.12" text-anchor="middle" >42</text>
<text x="349.58" y="159.90" font-size="5.4" fill="#b82c5a" stroke="#b82c5a" stroke-width="0.12" text-anchor="middle" >33</text>
<text x="364.02" y="159.90" font-size="5.4" fill="#b82c5a" stroke="#b82c5a" stroke-width="0.12" text-anchor="middle" >28</text>
<text x="378.46" y="159.90" font-size="5.4" fill="#b82c5a" stroke="#b82c5a" stroke-width="0.12" text-anchor="middle" >27</text>
<text x="392.90" y="159.90" font-size="5.4" fill="#b82c5a" stroke="#b82c5a" stroke-width="0.12" text-anchor="middle" >23</text>
<text x="407.34" y="159.90" font-size="5.4" fill="#b82c5a" stroke="#b82c5a" stroke-width="0.12" text-anchor="middle" >20</text>
<text x="421.79" y="159.90" font-size="5.4" fill="#b82c5a" stroke="#b82c5a" stroke-width="0.12" text-anchor="middle" >15</text>
<text x="436.23" y="159.90" font-size="5.4" fill="#b82c5a" stroke="#b82c5a" stroke-width="0.12" text-anchor="middle" >13</text>
<text x="450.67" y="159.90" font-size="5.4" fill="#b82c5a" stroke="#b82c5a" stroke-width="0.12" text-anchor="middle" >10</text>
<text x="465.11" y="159.90" font-size="5.4" fill="#b82c5a" stroke="#b82c5a" stroke-width="0.12" text-anchor="middle" >8</text>
<text x="479.55" y="159.90" font-size="5.4" fill="#b82c5a" stroke="#b82c5a" stroke-width="0.12" text-anchor="middle" >4</text>
<text x="494.00" y="159.90" font-size="5.4" fill="#b82c5a" stroke="#b82c5a" stroke-width="0.12" text-anchor="middle" >1</text>
<text x="508.44" y="159.90" font-size="5.4" fill="#b82c5a" stroke="#b82c5a" stroke-width="0.12" text-anchor="middle" >0</text>
<text x="6.25" y="314.25" font-size="5.2" fill="#222" stroke="#222" stroke-width="0.12" textLength="35.90" lengthAdjust="spacingAndGlyphs" >Patients at Risk</text>
<text x="6.25" y="321.60" font-size="5.2" fill="#62b462" stroke="#62b462" stroke-width="0.12" textLength="25.00" lengthAdjust="spacingAndGlyphs" >Prior HMA</text>
<text x="47.35" y="321.60" font-size="5.4" fill="#62b462" stroke="#62b462" stroke-width="0.12" text-anchor="middle" >28</text>
<text x="61.79" y="321.60" font-size="5.4" fill="#62b462" stroke="#62b462" stroke-width="0.12" text-anchor="middle" >20</text>
<text x="76.23" y="321.60" font-size="5.4" fill="#62b462" stroke="#62b462" stroke-width="0.12" text-anchor="middle" >11</text>
<text x="90.68" y="321.60" font-size="5.4" fill="#62b462" stroke="#62b462" stroke-width="0.12" text-anchor="middle" >10</text>
<text x="105.12" y="321.60" font-size="5.4" fill="#62b462" stroke="#62b462" stroke-width="0.12" text-anchor="middle" >6</text>
<text x="119.56" y="321.60" font-size="5.4" fill="#62b462" stroke="#62b462" stroke-width="0.12" text-anchor="middle" >6</text>
<text x="134.00" y="321.60" font-size="5.4" fill="#62b462" stroke="#62b462" stroke-width="0.12" text-anchor="middle" >4</text>
<text x="148.44" y="321.60" font-size="5.4" fill="#62b462" stroke="#62b462" stroke-width="0.12" text-anchor="middle" >3</text>
<text x="162.89" y="321.60" font-size="5.4" fill="#62b462" stroke="#62b462" stroke-width="0.12" text-anchor="middle" >2</text>
<text x="177.33" y="321.60" font-size="5.4" fill="#62b462" stroke="#62b462" stroke-width="0.12" text-anchor="middle" >2</text>
<text x="191.77" y="321.60" font-size="5.4" fill="#62b462" stroke="#62b462" stroke-width="0.12" text-anchor="middle" >2</text>
<text x="206.21" y="321.60" font-size="5.4" fill="#62b462" stroke="#62b462" stroke-width="0.12" text-anchor="middle" >2</text>
<text x="220.65" y="321.60" font-size="5.4" fill="#62b462" stroke="#62b462" stroke-width="0.12" text-anchor="middle" >1</text>
<text x="235.10" y="321.60" font-size="5.4" fill="#62b462" stroke="#62b462" stroke-width="0.12" text-anchor="middle" >0</text>
<text x="249.54" y="321.60" font-size="5.4" fill="#62b462" stroke="#62b462" stroke-width="0.12" text-anchor="middle" >0</text>
<text x="6.25" y="329.10" font-size="5.2" fill="#b82c5a" stroke="#b82c5a" stroke-width="0.12" textLength="33.80" lengthAdjust="spacingAndGlyphs" >No prior HMA</text>
<text x="47.35" y="329.10" font-size="5.4" fill="#b82c5a" stroke="#b82c5a" stroke-width="0.12" text-anchor="middle" >115</text>
<text x="61.79" y="329.10" font-size="5.4" fill="#b82c5a" stroke="#b82c5a" stroke-width="0.12" text-anchor="middle" >83</text>
<text x="76.23" y="329.10" font-size="5.4" fill="#b82c5a" stroke="#b82c5a" stroke-width="0.12" text-anchor="middle" >67</text>
<text x="90.68" y="329.10" font-size="5.4" fill="#b82c5a" stroke="#b82c5a" stroke-width="0.12" text-anchor="middle" >55</text>
<text x="105.12" y="329.10" font-size="5.4" fill="#b82c5a" stroke="#b82c5a" stroke-width="0.12" text-anchor="middle" >42</text>
<text x="119.56" y="329.10" font-size="5.4" fill="#b82c5a" stroke="#b82c5a" stroke-width="0.12" text-anchor="middle" >36</text>
<text x="134.00" y="329.10" font-size="5.4" fill="#b82c5a" stroke="#b82c5a" stroke-width="0.12" text-anchor="middle" >34</text>
<text x="148.44" y="329.10" font-size="5.4" fill="#b82c5a" stroke="#b82c5a" stroke-width="0.12" text-anchor="middle" >32</text>
<text x="162.89" y="329.10" font-size="5.4" fill="#b82c5a" stroke="#b82c5a" stroke-width="0.12" text-anchor="middle" >26</text>
<text x="177.33" y="329.10" font-size="5.4" fill="#b82c5a" stroke="#b82c5a" stroke-width="0.12" text-anchor="middle" >19</text>
<text x="191.77" y="329.10" font-size="5.4" fill="#b82c5a" stroke="#b82c5a" stroke-width="0.12" text-anchor="middle" >12</text>
<text x="206.21" y="329.10" font-size="5.4" fill="#b82c5a" stroke="#b82c5a" stroke-width="0.12" text-anchor="middle" >12</text>
<text x="220.65" y="329.10" font-size="5.4" fill="#b82c5a" stroke="#b82c5a" stroke-width="0.12" text-anchor="middle" >7</text>
<text x="235.10" y="329.10" font-size="5.4" fill="#b82c5a" stroke="#b82c5a" stroke-width="0.12" text-anchor="middle" >1</text>
<text x="249.54" y="329.10" font-size="5.4" fill="#b82c5a" stroke="#b82c5a" stroke-width="0.12" text-anchor="middle" >0</text>
<text x="270.70" y="313.70" font-size="5.2" fill="#222" stroke="#222" stroke-width="0.12" textLength="35.90" lengthAdjust="spacingAndGlyphs" >Patients at Risk</text>
<text x="270.70" y="321.40" font-size="5.2" fill="#62b462" stroke="#62b462" stroke-width="0.12" textLength="16.80" lengthAdjust="spacingAndGlyphs" >CR/CRi</text>
<text x="306.35" y="321.40" font-size="5.4" fill="#62b462" stroke="#62b462" stroke-width="0.12" text-anchor="middle" >41</text>
<text x="320.79" y="321.40" font-size="5.4" fill="#62b462" stroke="#62b462" stroke-width="0.12" text-anchor="middle" >41</text>
<text x="335.23" y="321.40" font-size="5.4" fill="#62b462" stroke="#62b462" stroke-width="0.12" text-anchor="middle" >39</text>
<text x="349.68" y="321.40" font-size="5.4" fill="#62b462" stroke="#62b462" stroke-width="0.12" text-anchor="middle" >35</text>
<text x="364.12" y="321.40" font-size="5.4" fill="#62b462" stroke="#62b462" stroke-width="0.12" text-anchor="middle" >31</text>
<text x="378.56" y="321.40" font-size="5.4" fill="#62b462" stroke="#62b462" stroke-width="0.12" text-anchor="middle" >28</text>
<text x="393.00" y="321.40" font-size="5.4" fill="#62b462" stroke="#62b462" stroke-width="0.12" text-anchor="middle" >27</text>
<text x="407.44" y="321.40" font-size="5.4" fill="#62b462" stroke="#62b462" stroke-width="0.12" text-anchor="middle" >24</text>
<text x="421.89" y="321.40" font-size="5.4" fill="#62b462" stroke="#62b462" stroke-width="0.12" text-anchor="middle" >21</text>
<text x="436.33" y="321.40" font-size="5.4" fill="#62b462" stroke="#62b462" stroke-width="0.12" text-anchor="middle" >14</text>
<text x="450.77" y="321.40" font-size="5.4" fill="#62b462" stroke="#62b462" stroke-width="0.12" text-anchor="middle" >10</text>
<text x="465.21" y="321.40" font-size="5.4" fill="#62b462" stroke="#62b462" stroke-width="0.12" text-anchor="middle" >10</text>
<text x="479.65" y="321.40" font-size="5.4" fill="#62b462" stroke="#62b462" stroke-width="0.12" text-anchor="middle" >5</text>
<text x="494.10" y="321.40" font-size="5.4" fill="#62b462" stroke="#62b462" stroke-width="0.12" text-anchor="middle" >1</text>
<text x="508.54" y="321.40" font-size="5.4" fill="#62b462" stroke="#62b462" stroke-width="0.12" text-anchor="middle" >0</text>
<text x="270.70" y="328.10" font-size="5.2" fill="#b82c5a" stroke="#b82c5a" stroke-width="0.12" textLength="21.10" lengthAdjust="spacingAndGlyphs" >CR + CRi</text>
<text x="306.35" y="328.10" font-size="5.4" fill="#b82c5a" stroke="#b82c5a" stroke-width="0.12" text-anchor="middle" >69</text>
<text x="320.79" y="328.10" font-size="5.4" fill="#b82c5a" stroke="#b82c5a" stroke-width="0.12" text-anchor="middle" >67</text>
<text x="335.23" y="328.10" font-size="5.4" fill="#b82c5a" stroke="#b82c5a" stroke-width="0.12" text-anchor="middle" >60</text>
<text x="349.68" y="328.10" font-size="5.4" fill="#b82c5a" stroke="#b82c5a" stroke-width="0.12" text-anchor="middle" >55</text>
<text x="364.12" y="328.10" font-size="5.4" fill="#b82c5a" stroke="#b82c5a" stroke-width="0.12" text-anchor="middle" >43</text>
<text x="378.56" y="328.10" font-size="5.4" fill="#b82c5a" stroke="#b82c5a" stroke-width="0.12" text-anchor="middle" >38</text>
<text x="393.00" y="328.10" font-size="5.4" fill="#b82c5a" stroke="#b82c5a" stroke-width="0.12" text-anchor="middle" >35</text>
<text x="407.44" y="328.10" font-size="5.4" fill="#b82c5a" stroke="#b82c5a" stroke-width="0.12" text-anchor="middle" >32</text>
<text x="421.89" y="328.10" font-size="5.4" fill="#b82c5a" stroke="#b82c5a" stroke-width="0.12" text-anchor="middle" >28</text>
<text x="436.33" y="328.10" font-size="5.4" fill="#b82c5a" stroke="#b82c5a" stroke-width="0.12" text-anchor="middle" >21</text>
<text x="450.77" y="328.10" font-size="5.4" fill="#b82c5a" stroke="#b82c5a" stroke-width="0.12" text-anchor="middle" >14</text>
<text x="465.21" y="328.10" font-size="5.4" fill="#b82c5a" stroke="#b82c5a" stroke-width="0.12" text-anchor="middle" >14</text>
<text x="479.65" y="328.10" font-size="5.4" fill="#b82c5a" stroke="#b82c5a" stroke-width="0.12" text-anchor="middle" >8</text>
<text x="494.10" y="328.10" font-size="5.4" fill="#b82c5a" stroke="#b82c5a" stroke-width="0.12" text-anchor="middle" >1</text>
<text x="508.54" y="328.10" font-size="5.4" fill="#b82c5a" stroke="#b82c5a" stroke-width="0.12" text-anchor="middle" >0</text>
<text x="270.70" y="334.70" font-size="5.2" fill="#f2ae4e" stroke="#f2ae4e" stroke-width="0.12" textLength="28.30" lengthAdjust="spacingAndGlyphs" >Non CR/CRi</text>
<text x="306.35" y="334.70" font-size="5.4" fill="#f2ae4e" stroke="#f2ae4e" stroke-width="0.12" text-anchor="middle" >74</text>
<text x="320.79" y="334.70" font-size="5.4" fill="#f2ae4e" stroke="#f2ae4e" stroke-width="0.12" text-anchor="middle" >36</text>
<text x="335.23" y="334.70" font-size="5.4" fill="#f2ae4e" stroke="#f2ae4e" stroke-width="0.12" text-anchor="middle" >18</text>
<text x="349.68" y="334.70" font-size="5.4" fill="#f2ae4e" stroke="#f2ae4e" stroke-width="0.12" text-anchor="middle" >10</text>
<text x="364.12" y="334.70" font-size="5.4" fill="#f2ae4e" stroke="#f2ae4e" stroke-width="0.12" text-anchor="middle" >5</text>
<text x="378.56" y="334.70" font-size="5.4" fill="#f2ae4e" stroke="#f2ae4e" stroke-width="0.12" text-anchor="middle" >4</text>
<text x="393.00" y="334.70" font-size="5.4" fill="#f2ae4e" stroke="#f2ae4e" stroke-width="0.12" text-anchor="middle" >3</text>
<text x="407.44" y="334.70" font-size="5.4" fill="#f2ae4e" stroke="#f2ae4e" stroke-width="0.12" text-anchor="middle" >3</text>
<text x="421.89" y="334.70" font-size="5.4" fill="#f2ae4e" stroke="#f2ae4e" stroke-width="0.12" text-anchor="middle" >0</text>
<text x="436.33" y="334.70" font-size="5.4" fill="#f2ae4e" stroke="#f2ae4e" stroke-width="0.12" text-anchor="middle" >0</text>
<text x="450.77" y="334.70" font-size="5.4" fill="#f2ae4e" stroke="#f2ae4e" stroke-width="0.12" text-anchor="middle" >0</text>
<text x="465.21" y="334.70" font-size="5.4" fill="#f2ae4e" stroke="#f2ae4e" stroke-width="0.12" text-anchor="middle" >0</text>
<text x="479.65" y="334.70" font-size="5.4" fill="#f2ae4e" stroke="#f2ae4e" stroke-width="0.12" text-anchor="middle" >0</text>
<text x="494.10" y="334.70" font-size="5.4" fill="#f2ae4e" stroke="#f2ae4e" stroke-width="0.12" text-anchor="middle" >0</text>
<text x="508.54" y="334.70" font-size="5.4" fill="#f2ae4e" stroke="#f2ae4e" stroke-width="0.12" text-anchor="middle" >0</text>
<text x="6.00" y="490.80" font-size="5.2" fill="#222" stroke="#222" stroke-width="0.12" textLength="35.90" lengthAdjust="spacingAndGlyphs" >Patients at Risk</text>
<text x="6.25" y="498.10" font-size="5.2" fill="#62b462" stroke="#62b462" stroke-width="0.12" textLength="29.60" lengthAdjust="spacingAndGlyphs" >De novo AML</text>
<text x="48.10" y="498.10" font-size="5.4" fill="#62b462" stroke="#62b462" stroke-width="0.12" text-anchor="middle" >85</text>
<text x="62.54" y="498.10" font-size="5.4" fill="#62b462" stroke="#62b462" stroke-width="0.12" text-anchor="middle" >66</text>
<text x="76.98" y="498.10" font-size="5.4" fill="#62b462" stroke="#62b462" stroke-width="0.12" text-anchor="middle" >53</text>
<text x="91.43" y="498.10" font-size="5.4" fill="#62b462" stroke="#62b462" stroke-width="0.12" text-anchor="middle" >42</text>
<text x="105.87" y="498.10" font-size="5.4" fill="#62b462" stroke="#62b462" stroke-width="0.12" text-anchor="middle" >32</text>
<text x="120.31" y="498.10" font-size="5.4" fill="#62b462" stroke="#62b462" stroke-width="0.12" text-anchor="middle" >27</text>
<text x="134.75" y="498.10" font-size="5.4" fill="#62b462" stroke="#62b462" stroke-width="0.12" text-anchor="middle" >25</text>
<text x="149.19" y="498.10" font-size="5.4" fill="#62b462" stroke="#62b462" stroke-width="0.12" text-anchor="middle" >24</text>
<text x="163.64" y="498.10" font-size="5.4" fill="#62b462" stroke="#62b462" stroke-width="0.12" text-anchor="middle" >20</text>
<text x="178.08" y="498.10" font-size="5.4" fill="#62b462" stroke="#62b462" stroke-width="0.12" text-anchor="middle" >16</text>
<text x="192.52" y="498.10" font-size="5.4" fill="#62b462" stroke="#62b462" stroke-width="0.12" text-anchor="middle" >11</text>
<text x="206.96" y="498.10" font-size="5.4" fill="#62b462" stroke="#62b462" stroke-width="0.12" text-anchor="middle" >11</text>
<text x="221.40" y="498.10" font-size="5.4" fill="#62b462" stroke="#62b462" stroke-width="0.12" text-anchor="middle" >7</text>
<text x="235.85" y="498.10" font-size="5.4" fill="#62b462" stroke="#62b462" stroke-width="0.12" text-anchor="middle" >1</text>
<text x="250.29" y="498.10" font-size="5.4" fill="#62b462" stroke="#62b462" stroke-width="0.12" text-anchor="middle" >0</text>
<text x="6.25" y="505.10" font-size="5.2" fill="#b82c5a" stroke="#b82c5a" stroke-width="0.12" textLength="33.70" lengthAdjust="spacingAndGlyphs" >Secondary AML</text>
<text x="48.10" y="505.10" font-size="5.4" fill="#b82c5a" stroke="#b82c5a" stroke-width="0.12" text-anchor="middle" >58</text>
<text x="62.54" y="505.10" font-size="5.4" fill="#b82c5a" stroke="#b82c5a" stroke-width="0.12" text-anchor="middle" >37</text>
<text x="76.98" y="505.10" font-size="5.4" fill="#b82c5a" stroke="#b82c5a" stroke-width="0.12" text-anchor="middle" >25</text>
<text x="91.43" y="505.10" font-size="5.4" fill="#b82c5a" stroke="#b82c5a" stroke-width="0.12" text-anchor="middle" >23</text>
<text x="105.87" y="505.10" font-size="5.4" fill="#b82c5a" stroke="#b82c5a" stroke-width="0.12" text-anchor="middle" >14</text>
<text x="120.31" y="505.10" font-size="5.4" fill="#b82c5a" stroke="#b82c5a" stroke-width="0.12" text-anchor="middle" >15</text>
<text x="134.75" y="505.10" font-size="5.4" fill="#b82c5a" stroke="#b82c5a" stroke-width="0.12" text-anchor="middle" >13</text>
<text x="149.19" y="505.10" font-size="5.4" fill="#b82c5a" stroke="#b82c5a" stroke-width="0.12" text-anchor="middle" >11</text>
<text x="163.64" y="505.10" font-size="5.4" fill="#b82c5a" stroke="#b82c5a" stroke-width="0.12" text-anchor="middle" >8</text>
<text x="178.08" y="505.10" font-size="5.4" fill="#b82c5a" stroke="#b82c5a" stroke-width="0.12" text-anchor="middle" >5</text>
<text x="192.52" y="505.10" font-size="5.4" fill="#b82c5a" stroke="#b82c5a" stroke-width="0.12" text-anchor="middle" >3</text>
<text x="206.96" y="505.10" font-size="5.4" fill="#b82c5a" stroke="#b82c5a" stroke-width="0.12" text-anchor="middle" >3</text>
<text x="221.40" y="505.10" font-size="5.4" fill="#b82c5a" stroke="#b82c5a" stroke-width="0.12" text-anchor="middle" >1</text>
<text x="235.85" y="505.10" font-size="5.4" fill="#b82c5a" stroke="#b82c5a" stroke-width="0.12" text-anchor="middle" >0</text>
<text x="250.29" y="505.10" font-size="5.4" fill="#b82c5a" stroke="#b82c5a" stroke-width="0.12" text-anchor="middle" >0</text>
<text x="6.25" y="512.20" font-size="5.2" fill="#f2ae4e" stroke="#f2ae4e" stroke-width="0.12" textLength="35.70" lengthAdjust="spacingAndGlyphs" >Intermediate risk</text>
<text x="48.10" y="512.20" font-size="5.4" fill="#f2ae4e" stroke="#f2ae4e" stroke-width="0.12" text-anchor="middle" >90</text>
<text x="62.54" y="512.20" font-size="5.4" fill="#f2ae4e" stroke="#f2ae4e" stroke-width="0.12" text-anchor="middle" >67</text>
<text x="76.98" y="512.20" font-size="5.4" fill="#f2ae4e" stroke="#f2ae4e" stroke-width="0.12" text-anchor="middle" >56</text>
<text x="91.43" y="512.20" font-size="5.4" fill="#f2ae4e" stroke="#f2ae4e" stroke-width="0.12" text-anchor="middle" >50</text>
<text x="105.87" y="512.20" font-size="5.4" fill="#f2ae4e" stroke="#f2ae4e" stroke-width="0.12" text-anchor="middle" >40</text>
<text x="120.31" y="512.20" font-size="5.4" fill="#f2ae4e" stroke="#f2ae4e" stroke-width="0.12" text-anchor="middle" >34</text>
<text x="134.75" y="512.20" font-size="5.4" fill="#f2ae4e" stroke="#f2ae4e" stroke-width="0.12" text-anchor="middle" >31</text>
<text x="149.19" y="512.20" font-size="5.4" fill="#f2ae4e" stroke="#f2ae4e" stroke-width="0.12" text-anchor="middle" >28</text>
<text x="163.64" y="512.20" font-size="5.4" fill="#f2ae4e" stroke="#f2ae4e" stroke-width="0.12" text-anchor="middle" >25</text>
<text x="178.08" y="512.20" font-size="5.4" fill="#f2ae4e" stroke="#f2ae4e" stroke-width="0.12" text-anchor="middle" >19</text>
<text x="192.52" y="512.20" font-size="5.4" fill="#f2ae4e" stroke="#f2ae4e" stroke-width="0.12" text-anchor="middle" >12</text>
<text x="206.96" y="512.20" font-size="5.4" fill="#f2ae4e" stroke="#f2ae4e" stroke-width="0.12" text-anchor="middle" >12</text>
<text x="221.40" y="512.20" font-size="5.4" fill="#f2ae4e" stroke="#f2ae4e" stroke-width="0.12" text-anchor="middle" >7</text>
<text x="235.85" y="512.20" font-size="5.4" fill="#f2ae4e" stroke="#f2ae4e" stroke-width="0.12" text-anchor="middle" >1</text>
<text x="250.29" y="512.20" font-size="5.4" fill="#f2ae4e" stroke="#f2ae4e" stroke-width="0.12" text-anchor="middle" >0</text>
<text x="6.25" y="518.90" font-size="5.2" fill="#34466e" stroke="#34466e" stroke-width="0.12" textLength="18.90" lengthAdjust="spacingAndGlyphs" >Poor risk</text>
<text x="48.10" y="518.90" font-size="5.4" fill="#34466e" stroke="#34466e" stroke-width="0.12" text-anchor="middle" >47</text>
<text x="62.54" y="518.90" font-size="5.4" fill="#34466e" stroke="#34466e" stroke-width="0.12" text-anchor="middle" >30</text>
<text x="76.98" y="518.90" font-size="5.4" fill="#34466e" stroke="#34466e" stroke-width="0.12" text-anchor="middle" >18</text>
<text x="91.43" y="518.90" font-size="5.4" fill="#34466e" stroke="#34466e" stroke-width="0.12" text-anchor="middle" >12</text>
<text x="105.87" y="518.90" font-size="5.4" fill="#34466e" stroke="#34466e" stroke-width="0.12" text-anchor="middle" >7</text>
<text x="120.31" y="518.90" font-size="5.4" fill="#34466e" stroke="#34466e" stroke-width="0.12" text-anchor="middle" >7</text>
<text x="134.75" y="518.90" font-size="5.4" fill="#34466e" stroke="#34466e" stroke-width="0.12" text-anchor="middle" >6</text>
<text x="149.19" y="518.90" font-size="5.4" fill="#34466e" stroke="#34466e" stroke-width="0.12" text-anchor="middle" >6</text>
<text x="163.64" y="518.90" font-size="5.4" fill="#34466e" stroke="#34466e" stroke-width="0.12" text-anchor="middle" >3</text>
<text x="178.08" y="518.90" font-size="5.4" fill="#34466e" stroke="#34466e" stroke-width="0.12" text-anchor="middle" >2</text>
<text x="192.52" y="518.90" font-size="5.4" fill="#34466e" stroke="#34466e" stroke-width="0.12" text-anchor="middle" >2</text>
<text x="206.96" y="518.90" font-size="5.4" fill="#34466e" stroke="#34466e" stroke-width="0.12" text-anchor="middle" >2</text>
<text x="221.40" y="518.90" font-size="5.4" fill="#34466e" stroke="#34466e" stroke-width="0.12" text-anchor="middle" >1</text>
<text x="235.85" y="518.90" font-size="5.4" fill="#34466e" stroke="#34466e" stroke-width="0.12" text-anchor="middle" >0</text>
<text x="250.29" y="518.90" font-size="5.4" fill="#34466e" stroke="#34466e" stroke-width="0.12" text-anchor="middle" >0</text>
<text x="280.00" y="491.00" font-size="5.2" fill="#222" stroke="#222" stroke-width="0.12" textLength="35.90" lengthAdjust="spacingAndGlyphs" >Patients at Risk</text>
<text x="280.00" y="498.20" font-size="5.2" fill="#62b462" stroke="#62b462" stroke-width="0.12" textLength="14.50" lengthAdjust="spacingAndGlyphs" >NPM1</text>
<text x="306.35" y="498.20" font-size="5.4" fill="#62b462" stroke="#62b462" stroke-width="0.12" text-anchor="middle" >19</text>
<text x="320.79" y="498.20" font-size="5.4" fill="#62b462" stroke="#62b462" stroke-width="0.12" text-anchor="middle" >16</text>
<text x="335.23" y="498.20" font-size="5.4" fill="#62b462" stroke="#62b462" stroke-width="0.12" text-anchor="middle" >16</text>
<text x="349.68" y="498.20" font-size="5.4" fill="#62b462" stroke="#62b462" stroke-width="0.12" text-anchor="middle" >14</text>
<text x="364.12" y="498.20" font-size="5.4" fill="#62b462" stroke="#62b462" stroke-width="0.12" text-anchor="middle" >12</text>
<text x="378.56" y="498.20" font-size="5.4" fill="#62b462" stroke="#62b462" stroke-width="0.12" text-anchor="middle" >12</text>
<text x="393.00" y="498.20" font-size="5.4" fill="#62b462" stroke="#62b462" stroke-width="0.12" text-anchor="middle" >11</text>
<text x="407.44" y="498.20" font-size="5.4" fill="#62b462" stroke="#62b462" stroke-width="0.12" text-anchor="middle" >10</text>
<text x="421.89" y="498.20" font-size="5.4" fill="#62b462" stroke="#62b462" stroke-width="0.12" text-anchor="middle" >8</text>
<text x="436.33" y="498.20" font-size="5.4" fill="#62b462" stroke="#62b462" stroke-width="0.12" text-anchor="middle" >7</text>
<text x="450.77" y="498.20" font-size="5.4" fill="#62b462" stroke="#62b462" stroke-width="0.12" text-anchor="middle" >4</text>
<text x="465.21" y="498.20" font-size="5.4" fill="#62b462" stroke="#62b462" stroke-width="0.12" text-anchor="middle" >4</text>
<text x="479.65" y="498.20" font-size="5.4" fill="#62b462" stroke="#62b462" stroke-width="0.12" text-anchor="middle" >3</text>
<text x="494.10" y="498.20" font-size="5.4" fill="#62b462" stroke="#62b462" stroke-width="0.12" text-anchor="middle" >1</text>
<text x="508.54" y="498.20" font-size="5.4" fill="#62b462" stroke="#62b462" stroke-width="0.12" text-anchor="middle" >0</text>
<text x="280.00" y="505.40" font-size="5.2" fill="#b82c5a" stroke="#b82c5a" stroke-width="0.12" textLength="16.80" lengthAdjust="spacingAndGlyphs" >IDH1/2</text>
<text x="306.35" y="505.40" font-size="5.4" fill="#b82c5a" stroke="#b82c5a" stroke-width="0.12" text-anchor="middle" >21</text>
<text x="320.79" y="505.40" font-size="5.4" fill="#b82c5a" stroke="#b82c5a" stroke-width="0.12" text-anchor="middle" >15</text>
<text x="335.23" y="505.40" font-size="5.4" fill="#b82c5a" stroke="#b82c5a" stroke-width="0.12" text-anchor="middle" >12</text>
<text x="349.68" y="505.40" font-size="5.4" fill="#b82c5a" stroke="#b82c5a" stroke-width="0.12" text-anchor="middle" >11</text>
<text x="364.12" y="505.40" font-size="5.4" fill="#b82c5a" stroke="#b82c5a" stroke-width="0.12" text-anchor="middle" >9</text>
<text x="378.56" y="505.40" font-size="5.4" fill="#b82c5a" stroke="#b82c5a" stroke-width="0.12" text-anchor="middle" >8</text>
<text x="393.00" y="505.40" font-size="5.4" fill="#b82c5a" stroke="#b82c5a" stroke-width="0.12" text-anchor="middle" >8</text>
<text x="407.44" y="505.40" font-size="5.4" fill="#b82c5a" stroke="#b82c5a" stroke-width="0.12" text-anchor="middle" >7</text>
<text x="421.89" y="505.40" font-size="5.4" fill="#b82c5a" stroke="#b82c5a" stroke-width="0.12" text-anchor="middle" >4</text>
<text x="436.33" y="505.40" font-size="5.4" fill="#b82c5a" stroke="#b82c5a" stroke-width="0.12" text-anchor="middle" >2</text>
<text x="450.77" y="505.40" font-size="5.4" fill="#b82c5a" stroke="#b82c5a" stroke-width="0.12" text-anchor="middle" >1</text>
<text x="465.21" y="505.40" font-size="5.4" fill="#b82c5a" stroke="#b82c5a" stroke-width="0.12" text-anchor="middle" >1</text>
<text x="479.65" y="505.40" font-size="5.4" fill="#b82c5a" stroke="#b82c5a" stroke-width="0.12" text-anchor="middle" >0</text>
<text x="494.10" y="505.40" font-size="5.4" fill="#b82c5a" stroke="#b82c5a" stroke-width="0.12" text-anchor="middle" >0</text>
<text x="508.54" y="505.40" font-size="5.4" fill="#b82c5a" stroke="#b82c5a" stroke-width="0.12" text-anchor="middle" >0</text>
<text x="280.00" y="512.30" font-size="5.2" fill="#f2ae4e" stroke="#f2ae4e" stroke-width="0.12" textLength="11.00" lengthAdjust="spacingAndGlyphs" >FLT3</text>
<text x="306.35" y="512.30" font-size="5.4" fill="#f2ae4e" stroke="#f2ae4e" stroke-width="0.12" text-anchor="middle" >20</text>
<text x="320.79" y="512.30" font-size="5.4" fill="#f2ae4e" stroke="#f2ae4e" stroke-width="0.12" text-anchor="middle" >11</text>
<text x="335.23" y="512.30" font-size="5.4" fill="#f2ae4e" stroke="#f2ae4e" stroke-width="0.12" text-anchor="middle" >8</text>
<text x="349.68" y="512.30" font-size="5.4" fill="#f2ae4e" stroke="#f2ae4e" stroke-width="0.12" text-anchor="middle" >7</text>
<text x="364.12" y="512.30" font-size="5.4" fill="#f2ae4e" stroke="#f2ae4e" stroke-width="0.12" text-anchor="middle" >6</text>
<text x="378.56" y="512.30" font-size="5.4" fill="#f2ae4e" stroke="#f2ae4e" stroke-width="0.12" text-anchor="middle" >6</text>
<text x="393.00" y="512.30" font-size="5.4" fill="#f2ae4e" stroke="#f2ae4e" stroke-width="0.12" text-anchor="middle" >5</text>
<text x="407.44" y="512.30" font-size="5.4" fill="#f2ae4e" stroke="#f2ae4e" stroke-width="0.12" text-anchor="middle" >4</text>
<text x="421.89" y="512.30" font-size="5.4" fill="#f2ae4e" stroke="#f2ae4e" stroke-width="0.12" text-anchor="middle" >3</text>
<text x="436.33" y="512.30" font-size="5.4" fill="#f2ae4e" stroke="#f2ae4e" stroke-width="0.12" text-anchor="middle" >3</text>
<text x="450.77" y="512.30" font-size="5.4" fill="#f2ae4e" stroke="#f2ae4e" stroke-width="0.12" text-anchor="middle" >1</text>
<text x="465.21" y="512.30" font-size="5.4" fill="#f2ae4e" stroke="#f2ae4e" stroke-width="0.12" text-anchor="middle" >1</text>
<text x="479.65" y="512.30" font-size="5.4" fill="#f2ae4e" stroke="#f2ae4e" stroke-width="0.12" text-anchor="middle" >1</text>
<text x="494.10" y="512.30" font-size="5.4" fill="#f2ae4e" stroke="#f2ae4e" stroke-width="0.12" text-anchor="middle" >0</text>
<text x="508.54" y="512.30" font-size="5.4" fill="#f2ae4e" stroke="#f2ae4e" stroke-width="0.12" text-anchor="middle" >0</text>
<text x="280.00" y="519.20" font-size="5.2" fill="#34466e" stroke="#34466e" stroke-width="0.12" textLength="11.60" lengthAdjust="spacingAndGlyphs" >TP53</text>
<text x="306.35" y="519.20" font-size="5.4" fill="#34466e" stroke="#34466e" stroke-width="0.12" text-anchor="middle" >21</text>
<text x="320.79" y="519.20" font-size="5.4" fill="#34466e" stroke="#34466e" stroke-width="0.12" text-anchor="middle" >9</text>
<text x="335.23" y="519.20" font-size="5.4" fill="#34466e" stroke="#34466e" stroke-width="0.12" text-anchor="middle" >5</text>
<text x="349.68" y="519.20" font-size="5.4" fill="#34466e" stroke="#34466e" stroke-width="0.12" text-anchor="middle" >3</text>
<text x="364.12" y="519.20" font-size="5.4" fill="#34466e" stroke="#34466e" stroke-width="0.12" text-anchor="middle" >2</text>
<text x="378.56" y="519.20" font-size="5.4" fill="#34466e" stroke="#34466e" stroke-width="0.12" text-anchor="middle" >2</text>
<text x="393.00" y="519.20" font-size="5.4" fill="#34466e" stroke="#34466e" stroke-width="0.12" text-anchor="middle" >1</text>
<text x="407.44" y="519.20" font-size="5.4" fill="#34466e" stroke="#34466e" stroke-width="0.12" text-anchor="middle" >1</text>
<text x="421.89" y="519.20" font-size="5.4" fill="#34466e" stroke="#34466e" stroke-width="0.12" text-anchor="middle" >1</text>
<text x="436.33" y="519.20" font-size="5.4" fill="#34466e" stroke="#34466e" stroke-width="0.12" text-anchor="middle" >0</text>
<text x="450.77" y="519.20" font-size="5.4" fill="#34466e" stroke="#34466e" stroke-width="0.12" text-anchor="middle" >0</text>
<text x="465.21" y="519.20" font-size="5.4" fill="#34466e" stroke="#34466e" stroke-width="0.12" text-anchor="middle" >0</text>
<text x="479.65" y="519.20" font-size="5.4" fill="#34466e" stroke="#34466e" stroke-width="0.12" text-anchor="middle" >0</text>
<text x="494.10" y="519.20" font-size="5.4" fill="#34466e" stroke="#34466e" stroke-width="0.12" text-anchor="middle" >0</text>
<text x="508.54" y="519.20" font-size="5.4" fill="#34466e" stroke="#34466e" stroke-width="0.12" text-anchor="middle" >0</text>
<polyline points="48.20,40.30 52.00,47.20 57.40,53.40 65.10,61.10 72.80,68.00 80.50,72.60 88.20,75.70 95.80,79.50 103.50,84.20 111.20,86.50 115.00,87.40 119.00,88.30 125.80,89.20 132.50,89.70 143.30,89.70 147.30,90.80 150.00,92.10 155.40,93.10 160.80,93.70 164.80,95.50 168.80,96.80 174.20,97.50 180.00,97.80 190.80,98.70 192.10,100.10 213.60,100.10 216.30,100.90 220.40,101.40 223.10,101.80 246.60,101.80" fill="none" stroke="#b01c4c" stroke-width="1.2" stroke-linejoin="round"/>
<polyline points="48.20,40.30 52.00,48.00 55.80,56.50 58.90,62.60 60.00,63.80 63.00,68.50 65.40,72.30 66.20,74.60 69.20,75.40 75.40,76.90 80.00,78.00 83.00,79.60 88.20,84.20 92.80,86.50 96.60,91.10 115.80,91.10 117.70,93.50 121.70,94.50 125.80,96.80 139.20,96.80 140.60,98.80 147.30,99.90 156.70,100.50 159.40,101.50 164.80,101.50 166.80,103.10 224.40,103.20 225.80,106.30 229.80,106.50" fill="none" stroke="#47a05a" stroke-width="1.2" stroke-linejoin="round"/>
<polyline points="305.70,40.00 309.20,40.40 312.10,41.20 315.50,41.20 316.70,42.90 318.40,45.20 319.60,47.00 320.70,49.80 322.50,51.60 323.60,51.00 324.80,52.70 327.10,53.30 329.40,54.50 331.70,55.60 334.00,56.80 335.70,59.60 338.60,60.20 345.00,60.20 347.30,62.50 349.60,65.80 354.70,66.20 357.10,67.10 359.40,68.90 362.90,69.80 364.00,73.30 387.70,73.60 390.00,75.00 391.70,75.60 392.90,79.60 398.10,79.80 400.40,81.30 403.80,83.00 409.60,83.50 415.00,83.70 421.90,85.70 456.50,85.70 457.40,88.50 463.40,88.80 465.20,93.20 473.80,93.20" fill="none" stroke="#47a05a" stroke-width="1.2" stroke-linejoin="round"/>
<polyline points="305.70,40.00 309.20,40.40 312.10,41.20 315.50,41.20 316.70,42.90 318.40,45.20 319.60,47.00 320.70,49.80 322.50,51.60 324.80,55.00 327.10,57.30 329.40,59.60 332.80,60.80 334.60,62.50 336.30,63.70 340.90,64.30 343.80,66.00 345.50,66.90 347.30,68.90 349.60,70.60 357.60,70.60 359.40,71.20 362.20,72.90 364.00,75.60 379.60,75.60 380.80,77.10 388.30,77.30 389.40,78.50 392.90,80.80 398.10,81.30 403.30,82.50 403.80,83.60 409.60,84.00 413.00,84.80 416.50,86.00 421.90,86.80 432.30,87.10 456.50,87.50 464.30,88.00 465.20,89.70 479.90,90.20 480.40,94.40 496.30,94.90" fill="none" stroke="#b01c4c" stroke-width="1.2" stroke-linejoin="round"/>
<polyline points="48.30,208.90 50.60,214.10 52.90,217.00 55.20,220.40 57.50,224.50 59.80,226.80 62.10,228.50 64.50,232.00 66.20,236.00 68.50,238.90 70.80,239.40 73.10,242.20 76.20,246.80 78.50,252.90 93.10,253.20 95.40,258.30 100.80,259.10 103.10,261.40 104.60,263.40 126.20,263.40 127.70,266.00 130.00,268.30 146.20,268.60 147.70,270.20 214.70,270.20 215.70,275.30 221.80,275.30" fill="none" stroke="#47a05a" stroke-width="1.2" stroke-linejoin="round"/>
<polyline points="48.30,208.90 51.20,214.10 54.10,217.50 57.00,221.00 59.80,223.90 63.30,226.80 67.90,229.60 71.40,233.10 74.80,235.40 79.40,237.10 84.10,239.40 88.70,241.80 94.40,245.20 97.70,248.30 103.10,251.40 110.00,252.90 119.20,255.70 131.50,256.00 136.20,256.50 143.80,257.20 149.00,258.10 153.10,259.10 159.10,260.10 163.20,262.10 167.20,263.70 173.30,265.20 181.40,265.80 187.40,266.80 191.50,268.20 216.70,268.20 219.70,269.60 247.00,269.60" fill="none" stroke="#b01c4c" stroke-width="1.2" stroke-linejoin="round"/>
<polyline points="307.00,208.60 327.20,208.80 328.60,211.10 331.90,212.00 337.30,212.40 342.70,213.30 345.40,214.70 348.10,216.80 351.40,218.50 354.80,220.10 358.80,221.80 361.50,223.80 364.90,225.20 368.30,226.50 371.00,229.00 372.70,230.10 403.00,230.50 405.70,232.80 407.70,235.90 417.10,236.20 419.10,238.20 421.10,240.20 423.20,243.60 425.20,245.60 427.90,248.30 431.90,249.60 434.60,252.00 442.10,252.40 444.70,256.00 473.50,256.30 475.10,259.30 476.70,260.10 478.80,262.80 505.80,262.80" fill="none" stroke="#47a05a" stroke-width="1.2" stroke-linejoin="round"/>
<polyline points="307.00,208.60 327.20,208.80 328.60,210.40 330.60,213.10 333.30,215.10 337.30,216.40 340.00,217.80 342.70,219.50 346.70,220.90 350.80,222.50 353.50,224.50 356.80,227.90 360.20,230.60 362.90,233.30 366.90,235.30 371.00,237.30 372.70,238.20 380.80,239.50 387.50,240.90 390.20,241.80 403.60,241.80 406.30,243.60 408.40,244.90 413.10,244.90 415.80,246.20 419.10,246.90 421.10,248.90 423.80,251.60 426.50,252.60 430.60,253.00 433.30,254.30 435.30,255.70 442.10,255.70 449.90,258.60 474.60,258.60 478.50,262.80 505.80,262.80" fill="none" stroke="#b01c4c" stroke-width="1.2" stroke-linejoin="round"/>
<polyline points="307.00,208.60 309.50,217.00 311.50,222.30 314.00,228.50 316.30,233.80 318.30,238.50 320.20,242.50 322.00,246.00 324.00,249.20 326.50,252.30 328.80,255.00 331.50,257.50 334.60,259.80 337.50,261.30 340.40,262.70 346.20,265.60 351.90,268.50 357.70,271.30 361.50,272.70 376.90,273.30 390.00,274.00 392.80,275.00 408.40,275.00 409.70,277.60 412.30,277.60" fill="none" stroke="#eca43c" stroke-width="1.2" stroke-linejoin="round"/>
<polyline points="49.50,385.50 51.20,389.50 54.10,394.70 57.50,397.60 61.00,399.90 65.60,401.00 69.10,403.30 73.70,406.20 78.30,408.50 84.10,410.80 89.80,413.10 92.90,416.00 99.60,419.40 106.40,422.10 113.10,424.80 118.50,426.80 125.20,428.20 130.00,428.70 144.80,429.70 147.50,432.10 154.20,433.50 161.00,434.50 166.30,436.20 173.10,438.20 178.50,438.80 183.80,440.20 190.60,440.90 191.90,442.20 213.50,442.10 219.20,443.30 221.50,444.40 246.90,444.40" fill="none" stroke="#eca43c" stroke-width="1.2" stroke-linejoin="round"/>
<polyline points="49.50,385.50 51.20,388.90 54.10,392.40 57.50,394.70 61.00,397.00 65.00,399.30 67.90,402.20 71.40,405.60 74.80,408.50 78.30,410.30 81.80,412.60 86.20,414.70 91.60,418.70 95.60,421.40 99.60,424.10 103.70,426.10 107.70,427.50 113.10,428.80 118.50,430.80 123.90,431.90 130.00,431.40 146.20,432.40 148.80,433.70 156.90,435.10 163.60,436.80 169.00,438.20 174.40,439.50 190.60,440.90 191.90,442.20 213.50,442.10 219.20,443.30 221.50,444.40 246.90,444.40" fill="none" stroke="#47a05a" stroke-width="1.2" stroke-linejoin="round"/>
<polyline points="49.50,385.50 51.80,391.80 54.70,396.40 57.50,402.20 60.40,406.20 63.30,410.30 66.20,413.10 70.00,416.00 74.10,420.10 76.80,423.40 79.50,426.10 80.80,427.90 94.30,427.90 97.00,429.50 99.60,431.50 102.30,433.50 105.00,435.60 106.40,436.20 130.60,436.90 132.60,438.90 136.00,440.30 143.50,439.90 147.50,441.80 151.50,443.10 161.00,443.60 163.60,444.90 173.10,445.60 175.80,448.30 191.20,448.30 191.90,450.30 213.50,450.50 215.80,451.90 216.90,453.10 222.70,453.10" fill="none" stroke="#b01c4c" stroke-width="1.2" stroke-linejoin="round"/>
<polyline points="49.50,385.50 51.80,392.40 54.10,397.00 56.40,401.60 58.70,405.10 61.00,408.50 63.30,412.00 65.00,415.40 66.20,418.30 68.70,420.10 71.40,424.10 74.10,425.50 76.80,426.80 79.50,430.80 83.50,431.90 87.50,433.50 90.20,435.60 92.20,437.60 95.60,438.90 98.30,440.90 101.00,443.00 103.70,445.00 130.00,444.60 148.80,444.90 150.90,446.60 161.00,446.90 162.30,448.90 165.00,450.70 233.10,451.00" fill="none" stroke="#4a6ea2" stroke-width="1.2" stroke-linejoin="round"/>
<polyline points="308.00,386.00 308.60,386.60 309.20,389.50 315.50,389.50 316.70,393.50 340.90,393.50 341.50,397.00 347.30,397.60 348.40,401.00 354.70,401.60 355.90,405.10 358.50,405.10 359.00,409.10 407.30,409.60 407.90,413.30 421.10,413.30 421.70,417.50 428.10,417.70 428.60,422.30 449.40,422.30 449.40,428.60 478.60,428.60 479.00,435.40 505.80,435.40" fill="none" stroke="#47a05a" stroke-width="1.2" stroke-linejoin="round"/>
<polyline points="308.00,386.00 309.80,391.20 312.10,395.80 315.00,399.30 317.80,399.90 319.00,402.20 321.30,402.80 323.60,405.60 325.90,406.20 327.60,409.10 330.00,412.30 336.90,413.10 337.70,416.50 357.90,416.90 359.00,419.80 360.80,423.30 367.10,423.60 368.30,427.30 406.70,427.50 407.30,430.40 420.00,430.40 421.10,435.00 421.70,438.40 428.10,438.70 428.60,442.50 432.70,443.10 433.30,447.10 478.50,447.10" fill="none" stroke="#b01c4c" stroke-width="1.2" stroke-linejoin="round"/>
<polyline points="308.00,386.00 310.90,394.70 312.70,399.30 315.00,401.60 316.70,405.10 318.40,409.70 319.60,411.40 325.30,411.80 327.10,413.10 332.80,413.70 334.60,416.00 334.60,423.10 346.90,423.50 347.70,426.90 358.50,427.20 359.20,430.80 360.20,431.70 405.00,431.50 407.30,435.90 420.00,435.90 421.10,441.00 490.20,441.00" fill="none" stroke="#eca43c" stroke-width="1.2" stroke-linejoin="round"/>
<polyline points="308.00,386.00 309.80,391.80 310.90,395.80 314.40,396.40 315.50,399.30 316.70,404.50 317.80,408.00 319.00,412.00 320.00,416.20 320.80,424.60 323.10,425.40 323.80,434.60 328.50,435.40 329.20,437.70 337.70,438.50 338.50,441.50 342.30,442.30 343.80,445.10 363.10,445.40 363.80,447.70 388.50,448.20 390.00,450.30 424.00,451.30 424.00,453.90" fill="none" stroke="#4a6ea2" stroke-width="1.2" stroke-linejoin="round"/>
<polyline points="191.90,442.20 213.50,442.10 219.20,443.30 221.50,444.40 246.90,444.40" fill="none" stroke="#a4a24a" stroke-width="1.2" stroke-linejoin="round"/>
<polyline points="191.90,450.50 213.50,450.60" fill="none" stroke="#4a4268" stroke-width="1.2" stroke-linejoin="round"/>
<polyline points="478.50,262.80 505.80,262.80" fill="none" stroke="#5a3a30" stroke-width="1.2" stroke-linejoin="round"/>
<line x1="176" y1="438.2" x2="176" y2="440.40000000000003" stroke="#222" stroke-width="0.9"/>
<line x1="178.5" y1="438.2" x2="178.5" y2="440.40000000000003" stroke="#222" stroke-width="0.9"/>
<line x1="181" y1="438.7" x2="181" y2="440.90000000000003" stroke="#222" stroke-width="0.9"/>
<line x1="184" y1="439.2" x2="184" y2="441.40000000000003" stroke="#222" stroke-width="0.9"/>
<line x1="186" y1="439.4" x2="186" y2="441.6" stroke="#222" stroke-width="0.9"/>
<line x1="214.6" y1="441.0" x2="214.6" y2="443.20000000000005" stroke="#222" stroke-width="0.9"/>
<line x1="222.5" y1="443.29999999999995" x2="222.5" y2="445.5" stroke="#222" stroke-width="0.9"/>
<line x1="225" y1="443.29999999999995" x2="225" y2="445.5" stroke="#222" stroke-width="0.9"/>
<line x1="228" y1="443.29999999999995" x2="228" y2="445.5" stroke="#222" stroke-width="0.9"/>
<line x1="230.5" y1="443.29999999999995" x2="230.5" y2="445.5" stroke="#222" stroke-width="0.9"/>
<line x1="233" y1="443.29999999999995" x2="233" y2="445.5" stroke="#222" stroke-width="0.9"/>
<line x1="236" y1="443.29999999999995" x2="236" y2="445.5" stroke="#222" stroke-width="0.9"/>
<line x1="239" y1="443.29999999999995" x2="239" y2="445.5" stroke="#222" stroke-width="0.9"/>
<line x1="242" y1="443.29999999999995" x2="242" y2="445.5" stroke="#222" stroke-width="0.9"/>
<line x1="246" y1="443.29999999999995" x2="246" y2="445.5" stroke="#222" stroke-width="0.9"/>
<line x1="480" y1="261.7" x2="480" y2="263.90000000000003" stroke="#222" stroke-width="0.9"/>
<line x1="482.5" y1="261.7" x2="482.5" y2="263.90000000000003" stroke="#222" stroke-width="0.9"/>
<line x1="485" y1="261.7" x2="485" y2="263.90000000000003" stroke="#222" stroke-width="0.9"/>
<line x1="487.5" y1="261.7" x2="487.5" y2="263.90000000000003" stroke="#222" stroke-width="0.9"/>
<line x1="490" y1="261.7" x2="490" y2="263.90000000000003" stroke="#222" stroke-width="0.9"/>
<line x1="492.5" y1="261.7" x2="492.5" y2="263.90000000000003" stroke="#222" stroke-width="0.9"/>
<line x1="495" y1="261.7" x2="495" y2="263.90000000000003" stroke="#222" stroke-width="0.9"/>
<line x1="196" y1="99.0" x2="196" y2="101.19999999999999" stroke="#222" stroke-width="0.9"/>
<line x1="200" y1="99.0" x2="200" y2="101.19999999999999" stroke="#222" stroke-width="0.9"/>
<line x1="217" y1="99.9" x2="217" y2="102.1" stroke="#222" stroke-width="0.9"/>
<line x1="222" y1="100.5" x2="222" y2="102.69999999999999" stroke="#222" stroke-width="0.9"/>
<line x1="232" y1="100.7" x2="232" y2="102.89999999999999" stroke="#222" stroke-width="0.9"/>
<line x1="237" y1="100.7" x2="237" y2="102.89999999999999" stroke="#222" stroke-width="0.9"/>
<line x1="241" y1="100.7" x2="241" y2="102.89999999999999" stroke="#222" stroke-width="0.9"/>
<line x1="245" y1="100.7" x2="245" y2="102.89999999999999" stroke="#222" stroke-width="0.9"/>
<line x1="205" y1="102.10000000000001" x2="205" y2="104.3" stroke="#222" stroke-width="0.9"/>
<line x1="210" y1="102.10000000000001" x2="210" y2="104.3" stroke="#222" stroke-width="0.9"/>
<line x1="213" y1="102.10000000000001" x2="213" y2="104.3" stroke="#222" stroke-width="0.9"/>
<line x1="229" y1="105.4" x2="229" y2="107.6" stroke="#222" stroke-width="0.9"/>
<line x1="339" y1="59.1" x2="339" y2="61.300000000000004" stroke="#222" stroke-width="0.9"/>
<line x1="405" y1="82.4" x2="405" y2="84.6" stroke="#222" stroke-width="0.9"/>
<line x1="419" y1="84.60000000000001" x2="419" y2="86.8" stroke="#222" stroke-width="0.9"/>
<line x1="428" y1="84.60000000000001" x2="428" y2="86.8" stroke="#222" stroke-width="0.9"/>
<line x1="468" y1="92.10000000000001" x2="468" y2="94.3" stroke="#222" stroke-width="0.9"/>
<line x1="473" y1="92.10000000000001" x2="473" y2="94.3" stroke="#222" stroke-width="0.9"/>
<line x1="423" y1="85.9" x2="423" y2="88.1" stroke="#222" stroke-width="0.9"/>
<line x1="435" y1="86.10000000000001" x2="435" y2="88.3" stroke="#222" stroke-width="0.9"/>
<line x1="446" y1="86.2" x2="446" y2="88.39999999999999" stroke="#222" stroke-width="0.9"/>
<line x1="461" y1="86.7" x2="461" y2="88.89999999999999" stroke="#222" stroke-width="0.9"/>
<line x1="484" y1="93.5" x2="484" y2="95.69999999999999" stroke="#222" stroke-width="0.9"/>
<line x1="493" y1="93.7" x2="493" y2="95.89999999999999" stroke="#222" stroke-width="0.9"/>
<line x1="496" y1="93.80000000000001" x2="496" y2="96.0" stroke="#222" stroke-width="0.9"/>
<line x1="164" y1="261.4" x2="164" y2="263.6" stroke="#222" stroke-width="0.9"/>
<line x1="170" y1="263.4" x2="170" y2="265.6" stroke="#222" stroke-width="0.9"/>
<line x1="182" y1="264.7" x2="182" y2="266.90000000000003" stroke="#222" stroke-width="0.9"/>
<line x1="197" y1="267.09999999999997" x2="197" y2="269.3" stroke="#222" stroke-width="0.9"/>
<line x1="224" y1="268.5" x2="224" y2="270.70000000000005" stroke="#222" stroke-width="0.9"/>
<line x1="229" y1="268.5" x2="229" y2="270.70000000000005" stroke="#222" stroke-width="0.9"/>
<line x1="234" y1="268.5" x2="234" y2="270.70000000000005" stroke="#222" stroke-width="0.9"/>
<line x1="238" y1="268.5" x2="238" y2="270.70000000000005" stroke="#222" stroke-width="0.9"/>
<line x1="243" y1="268.5" x2="243" y2="270.70000000000005" stroke="#222" stroke-width="0.9"/>
<line x1="247" y1="268.5" x2="247" y2="270.70000000000005" stroke="#222" stroke-width="0.9"/>
<line x1="150" y1="269.09999999999997" x2="150" y2="271.3" stroke="#222" stroke-width="0.9"/>
<line x1="221" y1="274.2" x2="221" y2="276.40000000000003" stroke="#222" stroke-width="0.9"/>
<line x1="403" y1="229.4" x2="403" y2="231.6" stroke="#222" stroke-width="0.9"/>
<line x1="416" y1="235.1" x2="416" y2="237.29999999999998" stroke="#222" stroke-width="0.9"/>
<line x1="437" y1="251.1" x2="437" y2="253.29999999999998" stroke="#222" stroke-width="0.9"/>
<line x1="441" y1="251.20000000000002" x2="441" y2="253.4" stroke="#222" stroke-width="0.9"/>
<line x1="458" y1="255.00000000000003" x2="458" y2="257.20000000000005" stroke="#222" stroke-width="0.9"/>
<line x1="470" y1="255.20000000000002" x2="470" y2="257.40000000000003" stroke="#222" stroke-width="0.9"/>
<line x1="380" y1="238.4" x2="380" y2="240.6" stroke="#222" stroke-width="0.9"/>
<line x1="417" y1="245.4" x2="417" y2="247.6" stroke="#222" stroke-width="0.9"/>
<line x1="457" y1="257.5" x2="457" y2="259.70000000000005" stroke="#222" stroke-width="0.9"/>
<line x1="363" y1="408.0" x2="363" y2="410.20000000000005" stroke="#222" stroke-width="0.9"/>
<line x1="376" y1="408.09999999999997" x2="376" y2="410.3" stroke="#222" stroke-width="0.9"/>
<line x1="412" y1="412.2" x2="412" y2="414.40000000000003" stroke="#222" stroke-width="0.9"/>
<line x1="416" y1="412.2" x2="416" y2="414.40000000000003" stroke="#222" stroke-width="0.9"/>
<line x1="443.4" y1="421.2" x2="443.4" y2="423.40000000000003" stroke="#222" stroke-width="0.9"/>
<line x1="445.5" y1="421.2" x2="445.5" y2="423.40000000000003" stroke="#222" stroke-width="0.9"/>
<line x1="483" y1="434.09999999999997" x2="483" y2="436.3" stroke="#222" stroke-width="0.9"/>
<line x1="489.8" y1="434.09999999999997" x2="489.8" y2="436.3" stroke="#222" stroke-width="0.9"/>
<line x1="505.3" y1="434.09999999999997" x2="505.3" y2="436.3" stroke="#222" stroke-width="0.9"/>
<line x1="352" y1="415.79999999999995" x2="352" y2="418.0" stroke="#222" stroke-width="0.9"/>
<line x1="442" y1="446.0" x2="442" y2="448.20000000000005" stroke="#222" stroke-width="0.9"/>
<line x1="477.5" y1="446.0" x2="477.5" y2="448.20000000000005" stroke="#222" stroke-width="0.9"/>
<line x1="340" y1="422.4" x2="340" y2="424.6" stroke="#222" stroke-width="0.9"/>
<line x1="445" y1="439.9" x2="445" y2="442.1" stroke="#222" stroke-width="0.9"/>
<line x1="490" y1="439.9" x2="490" y2="442.1" stroke="#222" stroke-width="0.9"/>
<line x1="330" y1="436.59999999999997" x2="330" y2="438.8" stroke="#222" stroke-width="0.9"/>
<line x1="379" y1="447.09999999999997" x2="379" y2="449.3" stroke="#222" stroke-width="0.9"/>
<line x1="0" y1="0.6" x2="520" y2="0.6" stroke="#3c3c3c" stroke-width="1.2"/>
<line x1="0.6" y1="0" x2="0.6" y2="526" stroke="#6a6a6a" stroke-width="1.2"/>
<line x1="519.4" y1="0" x2="519.4" y2="526" stroke="#555" stroke-width="1.2"/>
<line x1="0" y1="525.3" x2="520" y2="525.3" stroke="#333" stroke-width="1.4"/>
</g>
</svg>
</body></html>
